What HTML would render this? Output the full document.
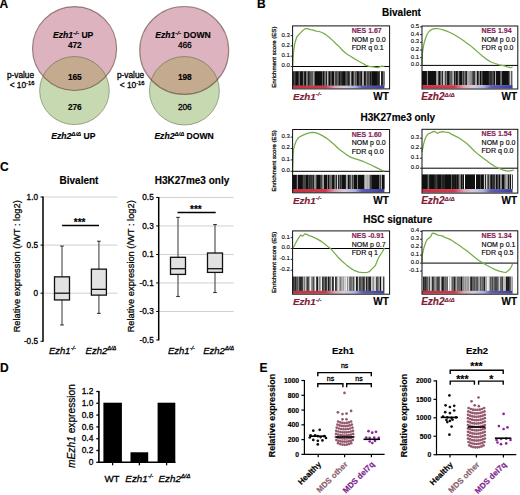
<!DOCTYPE html>
<html><head><meta charset="utf-8"><style>
html,body{margin:0;padding:0;background:#fff;overflow:hidden;width:520px;height:495px;}
svg{display:block;font-family:"Liberation Sans",sans-serif;}
</style></head><body>
<svg width="520" height="495" viewBox="0 0 520 495">
<rect width="520" height="495" fill="#fff"/>
<defs><clipPath id="cpv0"><ellipse cx="74.55" cy="48.5" rx="42.05" ry="41.95"/></clipPath></defs>
<ellipse cx="74.55" cy="48.5" rx="42.05" ry="41.95" fill="#DDB3BF"/>
<ellipse cx="74.45" cy="90.55" rx="34.85" ry="34.05" fill="#C6D9B1"/>
<ellipse cx="74.45" cy="90.55" rx="34.85" ry="34.05" fill="#C4AA8E" clip-path="url(#cpv0)"/>
<ellipse cx="74.45" cy="90.55" rx="34.85" ry="34.05" fill="none" stroke="rgba(60,80,40,0.45)" stroke-width="1"/>
<ellipse cx="74.55" cy="48.5" rx="42.05" ry="41.95" fill="none" stroke="rgba(80,50,40,0.55)" stroke-width="1.15"/>
<text x="53.10" y="37.60" font-size="8.6" font-weight="bold" font-style="italic" fill="#000" text-anchor="start" stroke="#000" stroke-width="0.15" >Ezh1</text>
<text x="73.17" y="34.80" font-size="6.191999999999999" font-weight="bold" font-style="italic" fill="#000" text-anchor="start" stroke="#000" stroke-width="0.15" >-/-</text>
<text x="81.41" y="37.60" font-size="8.6" font-weight="bold" font-style="normal" fill="#000" text-anchor="start" stroke="#000" stroke-width="0.15" >UP</text>
<text x="74.80" y="47.90" font-size="8.3" font-weight="bold" font-style="normal" fill="#000" text-anchor="middle" stroke="#000" stroke-width="0.15" >472</text>
<text x="74.80" y="79.80" font-size="8.3" font-weight="bold" font-style="normal" fill="#000" text-anchor="middle" stroke="#000" stroke-width="0.15" >165</text>
<text x="74.80" y="109.50" font-size="8.3" font-weight="bold" font-style="normal" fill="#000" text-anchor="middle" stroke="#000" stroke-width="0.15" >276</text>
<text x="51.30" y="138.70" font-size="8.6" font-weight="bold" font-style="italic" fill="#000" text-anchor="start" stroke="#000" stroke-width="0.15" >Ezh2</text>
<text x="71.37" y="135.90" font-size="6.02" font-weight="bold" font-style="italic" fill="#000" text-anchor="start" stroke="#000" stroke-width="0.15" >Δ/Δ</text>
<text x="83.52" y="138.70" font-size="8.6" font-weight="bold" font-style="normal" fill="#000" text-anchor="start" stroke="#000" stroke-width="0.15" >UP</text>
<defs><clipPath id="cpv1"><ellipse cx="184.2" cy="50.45" rx="44.5" ry="43.95"/></clipPath></defs>
<ellipse cx="184.2" cy="50.45" rx="44.5" ry="43.95" fill="#DDB3BF"/>
<ellipse cx="184.4" cy="90.75" rx="35.0" ry="34.25" fill="#C6D9B1"/>
<ellipse cx="184.4" cy="90.75" rx="35.0" ry="34.25" fill="#C4AA8E" clip-path="url(#cpv1)"/>
<ellipse cx="184.4" cy="90.75" rx="35.0" ry="34.25" fill="none" stroke="rgba(60,80,40,0.45)" stroke-width="1"/>
<ellipse cx="184.2" cy="50.45" rx="44.5" ry="43.95" fill="none" stroke="rgba(80,50,40,0.55)" stroke-width="1.15"/>
<text x="155.20" y="37.60" font-size="8.6" font-weight="bold" font-style="italic" fill="#000" text-anchor="start" stroke="#000" stroke-width="0.15" >Ezh1</text>
<text x="175.27" y="34.80" font-size="6.191999999999999" font-weight="bold" font-style="italic" fill="#000" text-anchor="start" stroke="#000" stroke-width="0.15" >-/-</text>
<text x="183.51" y="37.60" font-size="8.6" font-weight="bold" font-style="normal" fill="#000" text-anchor="start" stroke="#000" stroke-width="0.15" >DOWN</text>
<text x="184.80" y="47.90" font-size="8.3" font-weight="normal" font-style="normal" fill="#000" text-anchor="middle" stroke="#000" stroke-width="0.3" >466</text>
<text x="184.80" y="79.80" font-size="8.3" font-weight="bold" font-style="normal" fill="#000" text-anchor="middle" stroke="#000" stroke-width="0.15" >198</text>
<text x="184.80" y="109.50" font-size="8.3" font-weight="normal" font-style="normal" fill="#000" text-anchor="middle" stroke="#000" stroke-width="0.3" >206</text>
<text x="154.40" y="138.70" font-size="8.6" font-weight="bold" font-style="italic" fill="#000" text-anchor="start" stroke="#000" stroke-width="0.15" >Ezh2</text>
<text x="174.47" y="135.90" font-size="6.02" font-weight="bold" font-style="italic" fill="#000" text-anchor="start" stroke="#000" stroke-width="0.15" >Δ/Δ</text>
<text x="186.62" y="138.70" font-size="8.6" font-weight="bold" font-style="normal" fill="#000" text-anchor="start" stroke="#000" stroke-width="0.15" >DOWN</text>
<text x="20.50" y="78.40" font-size="8.3" font-weight="normal" font-style="normal" fill="#000" text-anchor="middle" stroke="#000" stroke-width="0.3" >p-value</text>
<text x="9.71" y="88.10" font-size="8.3" font-weight="normal" font-style="normal" fill="#000" text-anchor="start" stroke="#000" stroke-width="0.3" >&lt; 10</text>
<text x="26.09" y="84.90" font-size="5.8100000000000005" font-weight="normal" font-style="normal" fill="#000" text-anchor="start" stroke="#000" stroke-width="0.3" >-16</text>
<text x="130.60" y="78.40" font-size="8.3" font-weight="normal" font-style="normal" fill="#000" text-anchor="middle" stroke="#000" stroke-width="0.3" >p-value</text>
<text x="119.81" y="88.10" font-size="8.3" font-weight="normal" font-style="normal" fill="#000" text-anchor="start" stroke="#000" stroke-width="0.3" >&lt; 10</text>
<text x="136.19" y="84.90" font-size="5.8100000000000005" font-weight="normal" font-style="normal" fill="#000" text-anchor="start" stroke="#000" stroke-width="0.3" >-16</text>
<text x="-0.50" y="8.40" font-size="12" font-weight="bold" font-style="normal" fill="#000" text-anchor="start" stroke="#000" stroke-width="0.15" >A</text>
<text x="257.10" y="8.40" font-size="12" font-weight="bold" font-style="normal" fill="#000" text-anchor="start" stroke="#000" stroke-width="0.15" >B</text>
<text x="401.50" y="16.00" font-size="10" font-weight="bold" font-style="normal" fill="#000" text-anchor="middle" stroke="#000" stroke-width="0.15" >Bivalent</text>
<text x="397.80" y="120.80" font-size="10" font-weight="bold" font-style="normal" fill="#000" text-anchor="middle" stroke="#000" stroke-width="0.15" >H3K27me3 only</text>
<text x="397.80" y="222.50" font-size="10" font-weight="bold" font-style="normal" fill="#000" text-anchor="middle" stroke="#000" stroke-width="0.15" >HSC signature</text>
<line x1="290.6" y1="66.50" x2="292.6" y2="66.50" stroke="#000" stroke-width="0.8"/>
<text x="289.80" y="67.40" font-size="6.0" font-weight="normal" font-style="normal" fill="#000" text-anchor="end" stroke="#000" stroke-width="0.1" >0.0</text>
<line x1="290.6" y1="56.20" x2="292.6" y2="56.20" stroke="#000" stroke-width="0.8"/>
<text x="289.80" y="57.10" font-size="6.0" font-weight="normal" font-style="normal" fill="#000" text-anchor="end" stroke="#000" stroke-width="0.1" >0.1</text>
<line x1="290.6" y1="45.90" x2="292.6" y2="45.90" stroke="#000" stroke-width="0.8"/>
<text x="289.80" y="46.80" font-size="6.0" font-weight="normal" font-style="normal" fill="#000" text-anchor="end" stroke="#000" stroke-width="0.1" >0.2</text>
<line x1="290.6" y1="35.60" x2="292.6" y2="35.60" stroke="#000" stroke-width="0.8"/>
<text x="289.80" y="36.50" font-size="6.0" font-weight="normal" font-style="normal" fill="#000" text-anchor="end" stroke="#000" stroke-width="0.1" >0.3</text>
<rect x="292.6" y="71.4" width="91.80" height="14.30" fill="#141414"/>
<rect x="292.60" y="71.4" width="0.60" height="14.30" fill="#111"/>
<rect x="293.20" y="71.4" width="0.50" height="14.30" fill="#111"/>
<rect x="293.70" y="71.4" width="1.00" height="14.30" fill="#666"/>
<rect x="294.70" y="71.4" width="1.00" height="14.30" fill="#444"/>
<rect x="295.70" y="71.4" width="1.00" height="14.30" fill="#111"/>
<rect x="296.70" y="71.4" width="1.00" height="14.30" fill="#111"/>
<rect x="297.70" y="71.4" width="0.50" height="14.30" fill="#111"/>
<rect x="298.20" y="71.4" width="0.80" height="14.30" fill="#444"/>
<rect x="299.00" y="71.4" width="1.20" height="14.30" fill="#666"/>
<rect x="300.20" y="71.4" width="0.50" height="14.30" fill="#111"/>
<rect x="300.70" y="71.4" width="1.20" height="14.30" fill="#111"/>
<rect x="301.90" y="71.4" width="1.00" height="14.30" fill="#111"/>
<rect x="302.90" y="71.4" width="1.00" height="14.30" fill="#888"/>
<rect x="303.90" y="71.4" width="0.60" height="14.30" fill="#666"/>
<rect x="304.50" y="71.4" width="1.20" height="14.30" fill="#111"/>
<rect x="305.70" y="71.4" width="0.60" height="14.30" fill="#111"/>
<rect x="306.30" y="71.4" width="1.00" height="14.30" fill="#aaa"/>
<rect x="307.30" y="71.4" width="1.00" height="14.30" fill="#888"/>
<rect x="308.30" y="71.4" width="0.50" height="14.30" fill="#111"/>
<rect x="308.80" y="71.4" width="0.80" height="14.30" fill="#111"/>
<rect x="309.60" y="71.4" width="0.80" height="14.30" fill="#888"/>
<rect x="310.40" y="71.4" width="1.20" height="14.30" fill="#666"/>
<rect x="311.60" y="71.4" width="1.20" height="14.30" fill="#888"/>
<rect x="312.80" y="71.4" width="0.60" height="14.30" fill="#111"/>
<rect x="313.40" y="71.4" width="1.20" height="14.30" fill="#fff"/>
<rect x="314.60" y="71.4" width="1.20" height="14.30" fill="#111"/>
<rect x="315.80" y="71.4" width="0.50" height="14.30" fill="#111"/>
<rect x="316.30" y="71.4" width="1.00" height="14.30" fill="#111"/>
<rect x="317.30" y="71.4" width="0.60" height="14.30" fill="#111"/>
<rect x="317.90" y="71.4" width="0.80" height="14.30" fill="#111"/>
<rect x="318.70" y="71.4" width="1.20" height="14.30" fill="#111"/>
<rect x="319.90" y="71.4" width="0.60" height="14.30" fill="#111"/>
<rect x="320.50" y="71.4" width="1.00" height="14.30" fill="#111"/>
<rect x="321.50" y="71.4" width="0.50" height="14.30" fill="#111"/>
<rect x="322.00" y="71.4" width="0.80" height="14.30" fill="#888"/>
<rect x="322.80" y="71.4" width="1.20" height="14.30" fill="#111"/>
<rect x="324.00" y="71.4" width="0.60" height="14.30" fill="#111"/>
<rect x="324.60" y="71.4" width="0.60" height="14.30" fill="#ccc"/>
<rect x="325.20" y="71.4" width="1.20" height="14.30" fill="#888"/>
<rect x="326.40" y="71.4" width="0.60" height="14.30" fill="#111"/>
<rect x="327.00" y="71.4" width="0.80" height="14.30" fill="#eee"/>
<rect x="327.80" y="71.4" width="1.00" height="14.30" fill="#888"/>
<rect x="328.80" y="71.4" width="1.20" height="14.30" fill="#111"/>
<rect x="330.00" y="71.4" width="0.50" height="14.30" fill="#111"/>
<rect x="330.50" y="71.4" width="1.20" height="14.30" fill="#888"/>
<rect x="331.70" y="71.4" width="1.20" height="14.30" fill="#111"/>
<rect x="332.90" y="71.4" width="0.50" height="14.30" fill="#111"/>
<rect x="333.40" y="71.4" width="0.80" height="14.30" fill="#111"/>
<rect x="334.20" y="71.4" width="0.60" height="14.30" fill="#fff"/>
<rect x="334.80" y="71.4" width="1.00" height="14.30" fill="#666"/>
<rect x="335.80" y="71.4" width="0.80" height="14.30" fill="#111"/>
<rect x="336.60" y="71.4" width="1.20" height="14.30" fill="#888"/>
<rect x="337.80" y="71.4" width="0.80" height="14.30" fill="#444"/>
<rect x="338.60" y="71.4" width="0.60" height="14.30" fill="#888"/>
<rect x="339.20" y="71.4" width="1.20" height="14.30" fill="#111"/>
<rect x="340.40" y="71.4" width="0.50" height="14.30" fill="#666"/>
<rect x="340.90" y="71.4" width="0.50" height="14.30" fill="#888"/>
<rect x="341.40" y="71.4" width="0.50" height="14.30" fill="#111"/>
<rect x="341.90" y="71.4" width="0.50" height="14.30" fill="#666"/>
<rect x="342.40" y="71.4" width="0.60" height="14.30" fill="#111"/>
<rect x="343.00" y="71.4" width="1.20" height="14.30" fill="#111"/>
<rect x="344.20" y="71.4" width="0.80" height="14.30" fill="#111"/>
<rect x="345.00" y="71.4" width="0.60" height="14.30" fill="#111"/>
<rect x="345.60" y="71.4" width="0.60" height="14.30" fill="#888"/>
<rect x="346.20" y="71.4" width="0.80" height="14.30" fill="#666"/>
<rect x="347.00" y="71.4" width="1.00" height="14.30" fill="#444"/>
<rect x="348.00" y="71.4" width="0.80" height="14.30" fill="#111"/>
<rect x="348.80" y="71.4" width="1.00" height="14.30" fill="#666"/>
<rect x="349.80" y="71.4" width="0.50" height="14.30" fill="#111"/>
<rect x="350.30" y="71.4" width="1.20" height="14.30" fill="#fff"/>
<rect x="351.50" y="71.4" width="0.50" height="14.30" fill="#111"/>
<rect x="352.00" y="71.4" width="1.00" height="14.30" fill="#111"/>
<rect x="353.00" y="71.4" width="0.60" height="14.30" fill="#111"/>
<rect x="353.60" y="71.4" width="1.20" height="14.30" fill="#888"/>
<rect x="354.80" y="71.4" width="0.60" height="14.30" fill="#fff"/>
<rect x="355.40" y="71.4" width="0.60" height="14.30" fill="#444"/>
<rect x="356.00" y="71.4" width="1.00" height="14.30" fill="#666"/>
<rect x="357.00" y="71.4" width="1.00" height="14.30" fill="#111"/>
<rect x="358.00" y="71.4" width="0.80" height="14.30" fill="#111"/>
<rect x="358.80" y="71.4" width="0.60" height="14.30" fill="#666"/>
<rect x="359.40" y="71.4" width="0.50" height="14.30" fill="#666"/>
<rect x="359.90" y="71.4" width="0.80" height="14.30" fill="#666"/>
<rect x="360.70" y="71.4" width="1.20" height="14.30" fill="#111"/>
<rect x="361.90" y="71.4" width="0.50" height="14.30" fill="#444"/>
<rect x="362.40" y="71.4" width="1.20" height="14.30" fill="#fff"/>
<rect x="363.60" y="71.4" width="0.60" height="14.30" fill="#aaa"/>
<rect x="364.20" y="71.4" width="1.00" height="14.30" fill="#111"/>
<rect x="365.20" y="71.4" width="0.50" height="14.30" fill="#111"/>
<rect x="365.70" y="71.4" width="1.00" height="14.30" fill="#666"/>
<rect x="366.70" y="71.4" width="0.50" height="14.30" fill="#fff"/>
<rect x="367.20" y="71.4" width="0.80" height="14.30" fill="#444"/>
<rect x="368.00" y="71.4" width="0.80" height="14.30" fill="#666"/>
<rect x="368.80" y="71.4" width="0.80" height="14.30" fill="#111"/>
<rect x="369.60" y="71.4" width="0.60" height="14.30" fill="#ccc"/>
<rect x="370.20" y="71.4" width="0.80" height="14.30" fill="#111"/>
<rect x="371.00" y="71.4" width="0.80" height="14.30" fill="#666"/>
<rect x="371.80" y="71.4" width="1.20" height="14.30" fill="#111"/>
<rect x="373.00" y="71.4" width="1.20" height="14.30" fill="#111"/>
<rect x="374.20" y="71.4" width="1.20" height="14.30" fill="#111"/>
<rect x="375.40" y="71.4" width="0.50" height="14.30" fill="#111"/>
<rect x="375.90" y="71.4" width="0.60" height="14.30" fill="#111"/>
<rect x="376.50" y="71.4" width="1.20" height="14.30" fill="#111"/>
<rect x="377.70" y="71.4" width="0.80" height="14.30" fill="#666"/>
<rect x="378.50" y="71.4" width="0.80" height="14.30" fill="#111"/>
<rect x="379.30" y="71.4" width="0.50" height="14.30" fill="#111"/>
<rect x="379.80" y="71.4" width="1.20" height="14.30" fill="#fff"/>
<rect x="381.00" y="71.4" width="0.60" height="14.30" fill="#444"/>
<rect x="381.60" y="71.4" width="0.80" height="14.30" fill="#111"/>
<rect x="382.40" y="71.4" width="0.50" height="14.30" fill="#111"/>
<rect x="382.90" y="71.4" width="0.60" height="14.30" fill="#eee"/>
<rect x="383.50" y="71.4" width="0.50" height="14.30" fill="#666"/>
<rect x="384.00" y="71.4" width="0.40" height="14.30" fill="#444"/>
<defs><linearGradient id="g1" x1="0" x2="1"><stop offset="0" stop-color="#c92f3f"/><stop offset="0.36" stop-color="#d03a4c"/><stop offset="0.46" stop-color="#dca0b4"/><stop offset="0.56" stop-color="#d8cce2"/><stop offset="0.68" stop-color="#aeb0dc"/><stop offset="0.76" stop-color="#5c5eb6"/><stop offset="1" stop-color="#3c3e9e"/></linearGradient></defs>
<rect x="292.6" y="85.7" width="91.80" height="2.70" fill="url(#g1)"/>
<line x1="292.6" y1="66.5" x2="389.6" y2="66.5" stroke="#000" stroke-width="1"/>
<polyline points="292.60,66.50 293.40,53.00 294.80,43.30 296.80,37.00 299.70,33.60 302.60,30.70 305.50,28.60 307.40,28.60 310.30,29.60 313.30,30.20 316.20,31.20 319.10,31.50 322.00,32.50 324.90,34.10 328.80,37.00 332.60,40.40 336.50,44.30 338.00,45.40 342.20,50.00 346.30,53.70 350.50,56.30 354.60,58.90 358.80,61.30 362.90,63.50 366.00,65.40 369.20,66.40 373.30,66.90 377.50,67.70 381.60,66.10 384.40,66.40" fill="none" stroke="#76ad48" stroke-width="1.25" stroke-linejoin="round"/>
<rect x="292.6" y="25.9" width="97.00" height="63.00" fill="none" stroke="#111" stroke-width="1"/>
<text x="351.80" y="32.90" font-size="7" font-weight="bold" font-style="normal" fill="#861c58" text-anchor="start" stroke="#861c58" stroke-width="0.15" >NES 1.67</text>
<text x="351.80" y="41.60" font-size="7" font-weight="normal" font-style="normal" fill="#000" text-anchor="start" stroke="#000" stroke-width="0.15" >NOM p 0.0</text>
<text x="351.80" y="50.00" font-size="7" font-weight="normal" font-style="normal" fill="#000" text-anchor="start" stroke="#000" stroke-width="0.15" >FDR q 0.1</text>
<text x="292.90" y="99.80" font-size="9.8" font-weight="bold" font-style="italic" fill="#7E2035" text-anchor="start" stroke="#7E2035" stroke-width="0.15" >Ezh1</text>
<text x="315.77" y="96.40" font-size="6.0760000000000005" font-weight="bold" font-style="italic" fill="#7E2035" text-anchor="start" stroke="#7E2035" stroke-width="0.15" >-/-</text>
<text x="388.80" y="99.80" font-size="10" font-weight="bold" font-style="normal" fill="#000" text-anchor="end" stroke="#000" stroke-width="0.15" >WT</text>
<text transform="translate(276.0,57.2) rotate(-90)" font-size="6.1" text-anchor="middle" fill="#000" stroke="#000" stroke-width="0.25">Enrichment score (ES)</text>
<line x1="420.0" y1="65.40" x2="422.0" y2="65.40" stroke="#000" stroke-width="0.8"/>
<text x="419.20" y="66.30" font-size="6.0" font-weight="normal" font-style="normal" fill="#000" text-anchor="end" stroke="#000" stroke-width="0.1" >0.0</text>
<line x1="420.0" y1="57.70" x2="422.0" y2="57.70" stroke="#000" stroke-width="0.8"/>
<text x="419.20" y="58.60" font-size="6.0" font-weight="normal" font-style="normal" fill="#000" text-anchor="end" stroke="#000" stroke-width="0.1" >0.1</text>
<line x1="420.0" y1="50.00" x2="422.0" y2="50.00" stroke="#000" stroke-width="0.8"/>
<text x="419.20" y="50.90" font-size="6.0" font-weight="normal" font-style="normal" fill="#000" text-anchor="end" stroke="#000" stroke-width="0.1" >0.2</text>
<line x1="420.0" y1="42.30" x2="422.0" y2="42.30" stroke="#000" stroke-width="0.8"/>
<text x="419.20" y="43.20" font-size="6.0" font-weight="normal" font-style="normal" fill="#000" text-anchor="end" stroke="#000" stroke-width="0.1" >0.3</text>
<line x1="420.0" y1="34.60" x2="422.0" y2="34.60" stroke="#000" stroke-width="0.8"/>
<text x="419.20" y="35.50" font-size="6.0" font-weight="normal" font-style="normal" fill="#000" text-anchor="end" stroke="#000" stroke-width="0.1" >0.4</text>
<line x1="420.0" y1="26.90" x2="422.0" y2="26.90" stroke="#000" stroke-width="0.8"/>
<text x="419.20" y="27.80" font-size="6.0" font-weight="normal" font-style="normal" fill="#000" text-anchor="end" stroke="#000" stroke-width="0.1" >0.5</text>
<rect x="422.0" y="71.0" width="90.60" height="14.10" fill="#141414"/>
<rect x="422.00" y="71.0" width="0.50" height="14.10" fill="#111"/>
<rect x="422.50" y="71.0" width="0.80" height="14.10" fill="#111"/>
<rect x="423.30" y="71.0" width="0.80" height="14.10" fill="#111"/>
<rect x="424.10" y="71.0" width="0.60" height="14.10" fill="#111"/>
<rect x="424.70" y="71.0" width="1.20" height="14.10" fill="#111"/>
<rect x="425.90" y="71.0" width="1.00" height="14.10" fill="#111"/>
<rect x="426.90" y="71.0" width="1.20" height="14.10" fill="#888"/>
<rect x="428.10" y="71.0" width="1.00" height="14.10" fill="#111"/>
<rect x="429.10" y="71.0" width="0.50" height="14.10" fill="#111"/>
<rect x="429.60" y="71.0" width="0.80" height="14.10" fill="#111"/>
<rect x="430.40" y="71.0" width="0.80" height="14.10" fill="#111"/>
<rect x="431.20" y="71.0" width="1.00" height="14.10" fill="#111"/>
<rect x="432.20" y="71.0" width="1.20" height="14.10" fill="#111"/>
<rect x="433.40" y="71.0" width="0.60" height="14.10" fill="#111"/>
<rect x="434.00" y="71.0" width="0.50" height="14.10" fill="#111"/>
<rect x="434.50" y="71.0" width="0.60" height="14.10" fill="#111"/>
<rect x="435.10" y="71.0" width="1.20" height="14.10" fill="#111"/>
<rect x="436.30" y="71.0" width="1.20" height="14.10" fill="#ccc"/>
<rect x="437.50" y="71.0" width="1.00" height="14.10" fill="#eee"/>
<rect x="438.50" y="71.0" width="1.20" height="14.10" fill="#111"/>
<rect x="439.70" y="71.0" width="1.00" height="14.10" fill="#111"/>
<rect x="440.70" y="71.0" width="1.00" height="14.10" fill="#fff"/>
<rect x="441.70" y="71.0" width="1.20" height="14.10" fill="#111"/>
<rect x="442.90" y="71.0" width="0.80" height="14.10" fill="#eee"/>
<rect x="443.70" y="71.0" width="1.00" height="14.10" fill="#fff"/>
<rect x="444.70" y="71.0" width="0.80" height="14.10" fill="#888"/>
<rect x="445.50" y="71.0" width="1.00" height="14.10" fill="#444"/>
<rect x="446.50" y="71.0" width="0.80" height="14.10" fill="#ccc"/>
<rect x="447.30" y="71.0" width="1.20" height="14.10" fill="#111"/>
<rect x="448.50" y="71.0" width="1.00" height="14.10" fill="#111"/>
<rect x="449.50" y="71.0" width="1.20" height="14.10" fill="#888"/>
<rect x="450.70" y="71.0" width="1.20" height="14.10" fill="#666"/>
<rect x="451.90" y="71.0" width="0.60" height="14.10" fill="#666"/>
<rect x="452.50" y="71.0" width="1.20" height="14.10" fill="#eee"/>
<rect x="453.70" y="71.0" width="0.50" height="14.10" fill="#ccc"/>
<rect x="454.20" y="71.0" width="0.50" height="14.10" fill="#111"/>
<rect x="454.70" y="71.0" width="0.50" height="14.10" fill="#111"/>
<rect x="455.20" y="71.0" width="0.60" height="14.10" fill="#aaa"/>
<rect x="455.80" y="71.0" width="1.20" height="14.10" fill="#111"/>
<rect x="457.00" y="71.0" width="0.80" height="14.10" fill="#111"/>
<rect x="457.80" y="71.0" width="0.60" height="14.10" fill="#aaa"/>
<rect x="458.40" y="71.0" width="1.00" height="14.10" fill="#aaa"/>
<rect x="459.40" y="71.0" width="0.50" height="14.10" fill="#111"/>
<rect x="459.90" y="71.0" width="0.60" height="14.10" fill="#111"/>
<rect x="460.50" y="71.0" width="0.50" height="14.10" fill="#111"/>
<rect x="461.00" y="71.0" width="0.50" height="14.10" fill="#111"/>
<rect x="461.50" y="71.0" width="0.50" height="14.10" fill="#111"/>
<rect x="462.00" y="71.0" width="0.60" height="14.10" fill="#ccc"/>
<rect x="462.60" y="71.0" width="0.60" height="14.10" fill="#444"/>
<rect x="463.20" y="71.0" width="1.00" height="14.10" fill="#444"/>
<rect x="464.20" y="71.0" width="0.60" height="14.10" fill="#aaa"/>
<rect x="464.80" y="71.0" width="0.80" height="14.10" fill="#aaa"/>
<rect x="465.60" y="71.0" width="0.80" height="14.10" fill="#111"/>
<rect x="466.40" y="71.0" width="0.50" height="14.10" fill="#111"/>
<rect x="466.90" y="71.0" width="1.20" height="14.10" fill="#aaa"/>
<rect x="468.10" y="71.0" width="0.80" height="14.10" fill="#ccc"/>
<rect x="468.90" y="71.0" width="1.00" height="14.10" fill="#aaa"/>
<rect x="469.90" y="71.0" width="0.80" height="14.10" fill="#aaa"/>
<rect x="470.70" y="71.0" width="1.00" height="14.10" fill="#ccc"/>
<rect x="471.70" y="71.0" width="1.20" height="14.10" fill="#666"/>
<rect x="472.90" y="71.0" width="1.00" height="14.10" fill="#444"/>
<rect x="473.90" y="71.0" width="0.80" height="14.10" fill="#111"/>
<rect x="474.70" y="71.0" width="1.20" height="14.10" fill="#aaa"/>
<rect x="475.90" y="71.0" width="1.20" height="14.10" fill="#aaa"/>
<rect x="477.10" y="71.0" width="0.80" height="14.10" fill="#111"/>
<rect x="477.90" y="71.0" width="0.60" height="14.10" fill="#111"/>
<rect x="478.50" y="71.0" width="1.00" height="14.10" fill="#888"/>
<rect x="479.50" y="71.0" width="0.50" height="14.10" fill="#ccc"/>
<rect x="480.00" y="71.0" width="1.00" height="14.10" fill="#111"/>
<rect x="481.00" y="71.0" width="0.50" height="14.10" fill="#888"/>
<rect x="481.50" y="71.0" width="1.20" height="14.10" fill="#666"/>
<rect x="482.70" y="71.0" width="1.00" height="14.10" fill="#111"/>
<rect x="483.70" y="71.0" width="0.50" height="14.10" fill="#111"/>
<rect x="484.20" y="71.0" width="1.00" height="14.10" fill="#111"/>
<rect x="485.20" y="71.0" width="0.50" height="14.10" fill="#111"/>
<rect x="485.70" y="71.0" width="0.50" height="14.10" fill="#111"/>
<rect x="486.20" y="71.0" width="0.50" height="14.10" fill="#111"/>
<rect x="486.70" y="71.0" width="0.60" height="14.10" fill="#111"/>
<rect x="487.30" y="71.0" width="0.50" height="14.10" fill="#111"/>
<rect x="487.80" y="71.0" width="1.00" height="14.10" fill="#111"/>
<rect x="488.80" y="71.0" width="1.20" height="14.10" fill="#444"/>
<rect x="490.00" y="71.0" width="0.60" height="14.10" fill="#666"/>
<rect x="490.60" y="71.0" width="1.00" height="14.10" fill="#111"/>
<rect x="491.60" y="71.0" width="1.20" height="14.10" fill="#666"/>
<rect x="492.80" y="71.0" width="1.20" height="14.10" fill="#444"/>
<rect x="494.00" y="71.0" width="1.00" height="14.10" fill="#111"/>
<rect x="495.00" y="71.0" width="1.20" height="14.10" fill="#aaa"/>
<rect x="496.20" y="71.0" width="1.20" height="14.10" fill="#111"/>
<rect x="497.40" y="71.0" width="0.80" height="14.10" fill="#111"/>
<rect x="498.20" y="71.0" width="1.00" height="14.10" fill="#111"/>
<rect x="499.20" y="71.0" width="0.80" height="14.10" fill="#111"/>
<rect x="500.00" y="71.0" width="0.50" height="14.10" fill="#aaa"/>
<rect x="500.50" y="71.0" width="1.00" height="14.10" fill="#666"/>
<rect x="501.50" y="71.0" width="0.60" height="14.10" fill="#aaa"/>
<rect x="502.10" y="71.0" width="0.50" height="14.10" fill="#111"/>
<rect x="502.60" y="71.0" width="0.80" height="14.10" fill="#111"/>
<rect x="503.40" y="71.0" width="0.50" height="14.10" fill="#111"/>
<rect x="503.90" y="71.0" width="1.00" height="14.10" fill="#111"/>
<rect x="504.90" y="71.0" width="1.20" height="14.10" fill="#111"/>
<rect x="506.10" y="71.0" width="1.00" height="14.10" fill="#111"/>
<rect x="507.10" y="71.0" width="0.80" height="14.10" fill="#111"/>
<rect x="507.90" y="71.0" width="0.50" height="14.10" fill="#111"/>
<rect x="508.40" y="71.0" width="0.50" height="14.10" fill="#111"/>
<rect x="508.90" y="71.0" width="0.80" height="14.10" fill="#ccc"/>
<rect x="509.70" y="71.0" width="0.50" height="14.10" fill="#111"/>
<rect x="510.20" y="71.0" width="1.00" height="14.10" fill="#fff"/>
<rect x="511.20" y="71.0" width="0.80" height="14.10" fill="#666"/>
<rect x="512.00" y="71.0" width="0.60" height="14.10" fill="#eee"/>
<defs><linearGradient id="g2" x1="0" x2="1"><stop offset="0" stop-color="#c92f3f"/><stop offset="0.36" stop-color="#d03a4c"/><stop offset="0.46" stop-color="#dca0b4"/><stop offset="0.56" stop-color="#d8cce2"/><stop offset="0.68" stop-color="#aeb0dc"/><stop offset="0.76" stop-color="#5c5eb6"/><stop offset="1" stop-color="#3c3e9e"/></linearGradient></defs>
<rect x="422.0" y="85.1" width="90.60" height="3.40" fill="url(#g2)"/>
<line x1="422.0" y1="65.4" x2="517.8" y2="65.4" stroke="#000" stroke-width="1"/>
<polyline points="422.00,65.40 422.20,55.00 423.00,49.00 424.00,43.50 425.50,38.50 427.00,34.50 429.00,31.50 431.00,29.80 434.00,28.60 437.00,28.50 440.00,29.00 443.00,29.80 446.00,30.80 450.00,32.50 454.00,34.50 458.00,37.00 462.00,39.50 466.00,42.50 470.20,45.40 474.30,49.00 478.50,52.60 482.60,56.30 486.80,59.40 490.90,62.00 495.10,63.50 499.20,64.80 503.40,65.60 507.50,66.90 510.70,67.70 512.60,66.70" fill="none" stroke="#76ad48" stroke-width="1.25" stroke-linejoin="round"/>
<rect x="422.0" y="26.0" width="95.80" height="63.00" fill="none" stroke="#111" stroke-width="1"/>
<text x="481.60" y="33.00" font-size="7" font-weight="bold" font-style="normal" fill="#861c58" text-anchor="start" stroke="#861c58" stroke-width="0.15" >NES 1.94</text>
<text x="481.60" y="41.70" font-size="7" font-weight="normal" font-style="normal" fill="#000" text-anchor="start" stroke="#000" stroke-width="0.15" >NOM p 0.0</text>
<text x="481.60" y="50.10" font-size="7" font-weight="normal" font-style="normal" fill="#000" text-anchor="start" stroke="#000" stroke-width="0.15" >FDR q 0.0</text>
<text x="421.20" y="99.90" font-size="10" font-weight="bold" font-style="italic" fill="#7E2035" text-anchor="start" stroke="#7E2035" stroke-width="0.15" >Ezh2</text>
<text x="444.54" y="96.80" font-size="6.2" font-weight="bold" font-style="italic" fill="#7E2035" text-anchor="start" stroke="#7E2035" stroke-width="0.15" >Δ/Δ</text>
<text x="517.00" y="99.90" font-size="10" font-weight="bold" font-style="normal" fill="#000" text-anchor="end" stroke="#000" stroke-width="0.15" >WT</text>
<line x1="290.6" y1="171.30" x2="292.6" y2="171.30" stroke="#000" stroke-width="0.8"/>
<text x="289.80" y="172.20" font-size="6.0" font-weight="normal" font-style="normal" fill="#000" text-anchor="end" stroke="#000" stroke-width="0.1" >0.0</text>
<line x1="290.6" y1="159.90" x2="292.6" y2="159.90" stroke="#000" stroke-width="0.8"/>
<text x="289.80" y="160.80" font-size="6.0" font-weight="normal" font-style="normal" fill="#000" text-anchor="end" stroke="#000" stroke-width="0.1" >0.1</text>
<line x1="290.6" y1="148.50" x2="292.6" y2="148.50" stroke="#000" stroke-width="0.8"/>
<text x="289.80" y="149.40" font-size="6.0" font-weight="normal" font-style="normal" fill="#000" text-anchor="end" stroke="#000" stroke-width="0.1" >0.2</text>
<line x1="290.6" y1="137.10" x2="292.6" y2="137.10" stroke="#000" stroke-width="0.8"/>
<text x="289.80" y="138.00" font-size="6.0" font-weight="normal" font-style="normal" fill="#000" text-anchor="end" stroke="#000" stroke-width="0.1" >0.3</text>
<rect x="292.6" y="174.9" width="91.80" height="14.10" fill="#141414"/>
<rect x="292.60" y="174.9" width="0.60" height="14.10" fill="#111"/>
<rect x="293.20" y="174.9" width="0.60" height="14.10" fill="#111"/>
<rect x="293.80" y="174.9" width="1.20" height="14.10" fill="#111"/>
<rect x="295.00" y="174.9" width="1.20" height="14.10" fill="#111"/>
<rect x="296.20" y="174.9" width="0.50" height="14.10" fill="#666"/>
<rect x="296.70" y="174.9" width="0.80" height="14.10" fill="#111"/>
<rect x="297.50" y="174.9" width="0.60" height="14.10" fill="#fff"/>
<rect x="298.10" y="174.9" width="1.20" height="14.10" fill="#111"/>
<rect x="299.30" y="174.9" width="1.00" height="14.10" fill="#111"/>
<rect x="300.30" y="174.9" width="0.60" height="14.10" fill="#111"/>
<rect x="300.90" y="174.9" width="0.60" height="14.10" fill="#111"/>
<rect x="301.50" y="174.9" width="1.20" height="14.10" fill="#111"/>
<rect x="302.70" y="174.9" width="0.50" height="14.10" fill="#444"/>
<rect x="303.20" y="174.9" width="0.60" height="14.10" fill="#888"/>
<rect x="303.80" y="174.9" width="0.50" height="14.10" fill="#111"/>
<rect x="304.30" y="174.9" width="0.50" height="14.10" fill="#666"/>
<rect x="304.80" y="174.9" width="1.00" height="14.10" fill="#666"/>
<rect x="305.80" y="174.9" width="1.00" height="14.10" fill="#111"/>
<rect x="306.80" y="174.9" width="1.20" height="14.10" fill="#111"/>
<rect x="308.00" y="174.9" width="0.60" height="14.10" fill="#aaa"/>
<rect x="308.60" y="174.9" width="0.50" height="14.10" fill="#111"/>
<rect x="309.10" y="174.9" width="0.60" height="14.10" fill="#111"/>
<rect x="309.70" y="174.9" width="1.00" height="14.10" fill="#666"/>
<rect x="310.70" y="174.9" width="1.00" height="14.10" fill="#111"/>
<rect x="311.70" y="174.9" width="1.00" height="14.10" fill="#888"/>
<rect x="312.70" y="174.9" width="1.20" height="14.10" fill="#111"/>
<rect x="313.90" y="174.9" width="0.60" height="14.10" fill="#aaa"/>
<rect x="314.50" y="174.9" width="0.80" height="14.10" fill="#ccc"/>
<rect x="315.30" y="174.9" width="0.80" height="14.10" fill="#aaa"/>
<rect x="316.10" y="174.9" width="0.60" height="14.10" fill="#888"/>
<rect x="316.70" y="174.9" width="0.80" height="14.10" fill="#111"/>
<rect x="317.50" y="174.9" width="0.50" height="14.10" fill="#111"/>
<rect x="318.00" y="174.9" width="1.00" height="14.10" fill="#111"/>
<rect x="319.00" y="174.9" width="0.50" height="14.10" fill="#111"/>
<rect x="319.50" y="174.9" width="0.60" height="14.10" fill="#111"/>
<rect x="320.10" y="174.9" width="1.00" height="14.10" fill="#444"/>
<rect x="321.10" y="174.9" width="0.50" height="14.10" fill="#444"/>
<rect x="321.60" y="174.9" width="1.00" height="14.10" fill="#666"/>
<rect x="322.60" y="174.9" width="1.20" height="14.10" fill="#eee"/>
<rect x="323.80" y="174.9" width="1.20" height="14.10" fill="#111"/>
<rect x="325.00" y="174.9" width="0.50" height="14.10" fill="#111"/>
<rect x="325.50" y="174.9" width="0.50" height="14.10" fill="#111"/>
<rect x="326.00" y="174.9" width="1.20" height="14.10" fill="#111"/>
<rect x="327.20" y="174.9" width="0.60" height="14.10" fill="#eee"/>
<rect x="327.80" y="174.9" width="1.20" height="14.10" fill="#111"/>
<rect x="329.00" y="174.9" width="0.50" height="14.10" fill="#eee"/>
<rect x="329.50" y="174.9" width="0.80" height="14.10" fill="#444"/>
<rect x="330.30" y="174.9" width="1.00" height="14.10" fill="#888"/>
<rect x="331.30" y="174.9" width="1.00" height="14.10" fill="#888"/>
<rect x="332.30" y="174.9" width="1.20" height="14.10" fill="#111"/>
<rect x="333.50" y="174.9" width="1.20" height="14.10" fill="#111"/>
<rect x="334.70" y="174.9" width="0.60" height="14.10" fill="#fff"/>
<rect x="335.30" y="174.9" width="0.80" height="14.10" fill="#888"/>
<rect x="336.10" y="174.9" width="0.80" height="14.10" fill="#111"/>
<rect x="336.90" y="174.9" width="1.00" height="14.10" fill="#eee"/>
<rect x="337.90" y="174.9" width="0.50" height="14.10" fill="#888"/>
<rect x="338.40" y="174.9" width="0.60" height="14.10" fill="#111"/>
<rect x="339.00" y="174.9" width="0.80" height="14.10" fill="#888"/>
<rect x="339.80" y="174.9" width="0.80" height="14.10" fill="#666"/>
<rect x="340.60" y="174.9" width="1.00" height="14.10" fill="#111"/>
<rect x="341.60" y="174.9" width="0.50" height="14.10" fill="#aaa"/>
<rect x="342.10" y="174.9" width="0.80" height="14.10" fill="#111"/>
<rect x="342.90" y="174.9" width="1.00" height="14.10" fill="#111"/>
<rect x="343.90" y="174.9" width="1.20" height="14.10" fill="#111"/>
<rect x="345.10" y="174.9" width="0.80" height="14.10" fill="#111"/>
<rect x="345.90" y="174.9" width="0.80" height="14.10" fill="#eee"/>
<rect x="346.70" y="174.9" width="0.80" height="14.10" fill="#aaa"/>
<rect x="347.50" y="174.9" width="0.50" height="14.10" fill="#ccc"/>
<rect x="348.00" y="174.9" width="0.80" height="14.10" fill="#111"/>
<rect x="348.80" y="174.9" width="0.80" height="14.10" fill="#111"/>
<rect x="349.60" y="174.9" width="0.60" height="14.10" fill="#888"/>
<rect x="350.20" y="174.9" width="0.50" height="14.10" fill="#111"/>
<rect x="350.70" y="174.9" width="0.80" height="14.10" fill="#ccc"/>
<rect x="351.50" y="174.9" width="1.00" height="14.10" fill="#ccc"/>
<rect x="352.50" y="174.9" width="0.50" height="14.10" fill="#111"/>
<rect x="353.00" y="174.9" width="0.60" height="14.10" fill="#fff"/>
<rect x="353.60" y="174.9" width="0.80" height="14.10" fill="#111"/>
<rect x="354.40" y="174.9" width="0.50" height="14.10" fill="#111"/>
<rect x="354.90" y="174.9" width="0.60" height="14.10" fill="#111"/>
<rect x="355.50" y="174.9" width="1.20" height="14.10" fill="#111"/>
<rect x="356.70" y="174.9" width="0.80" height="14.10" fill="#111"/>
<rect x="357.50" y="174.9" width="0.50" height="14.10" fill="#eee"/>
<rect x="358.00" y="174.9" width="1.20" height="14.10" fill="#111"/>
<rect x="359.20" y="174.9" width="0.80" height="14.10" fill="#111"/>
<rect x="360.00" y="174.9" width="0.80" height="14.10" fill="#111"/>
<rect x="360.80" y="174.9" width="1.00" height="14.10" fill="#111"/>
<rect x="361.80" y="174.9" width="1.20" height="14.10" fill="#111"/>
<rect x="363.00" y="174.9" width="1.00" height="14.10" fill="#111"/>
<rect x="364.00" y="174.9" width="0.50" height="14.10" fill="#111"/>
<rect x="364.50" y="174.9" width="1.20" height="14.10" fill="#fff"/>
<rect x="365.70" y="174.9" width="1.20" height="14.10" fill="#ccc"/>
<rect x="366.90" y="174.9" width="0.50" height="14.10" fill="#888"/>
<rect x="367.40" y="174.9" width="1.20" height="14.10" fill="#eee"/>
<rect x="368.60" y="174.9" width="0.60" height="14.10" fill="#eee"/>
<rect x="369.20" y="174.9" width="0.50" height="14.10" fill="#aaa"/>
<rect x="369.70" y="174.9" width="0.50" height="14.10" fill="#ccc"/>
<rect x="370.20" y="174.9" width="1.00" height="14.10" fill="#444"/>
<rect x="371.20" y="174.9" width="1.00" height="14.10" fill="#444"/>
<rect x="372.20" y="174.9" width="1.20" height="14.10" fill="#111"/>
<rect x="373.40" y="174.9" width="0.50" height="14.10" fill="#111"/>
<rect x="373.90" y="174.9" width="1.00" height="14.10" fill="#111"/>
<rect x="374.90" y="174.9" width="1.20" height="14.10" fill="#111"/>
<rect x="376.10" y="174.9" width="0.60" height="14.10" fill="#111"/>
<rect x="376.70" y="174.9" width="1.20" height="14.10" fill="#111"/>
<rect x="377.90" y="174.9" width="0.50" height="14.10" fill="#111"/>
<rect x="378.40" y="174.9" width="0.60" height="14.10" fill="#111"/>
<rect x="379.00" y="174.9" width="0.50" height="14.10" fill="#111"/>
<rect x="379.50" y="174.9" width="0.80" height="14.10" fill="#ccc"/>
<rect x="380.30" y="174.9" width="0.50" height="14.10" fill="#111"/>
<rect x="380.80" y="174.9" width="1.20" height="14.10" fill="#aaa"/>
<rect x="382.00" y="174.9" width="0.80" height="14.10" fill="#111"/>
<rect x="382.80" y="174.9" width="1.20" height="14.10" fill="#111"/>
<rect x="384.00" y="174.9" width="0.40" height="14.10" fill="#111"/>
<defs><linearGradient id="g3" x1="0" x2="1"><stop offset="0" stop-color="#c92f3f"/><stop offset="0.36" stop-color="#d03a4c"/><stop offset="0.46" stop-color="#dca0b4"/><stop offset="0.56" stop-color="#d8cce2"/><stop offset="0.68" stop-color="#aeb0dc"/><stop offset="0.76" stop-color="#5c5eb6"/><stop offset="1" stop-color="#3c3e9e"/></linearGradient></defs>
<rect x="292.6" y="189.0" width="91.80" height="3.30" fill="url(#g3)"/>
<line x1="292.6" y1="171.3" x2="389.6" y2="171.3" stroke="#000" stroke-width="1"/>
<polyline points="292.60,171.30 293.10,155.30 293.60,149.20 294.60,145.20 296.10,141.20 298.10,138.10 301.10,136.10 304.20,134.60 308.20,133.10 312.20,132.30 315.30,132.60 318.30,133.60 322.30,135.60 326.40,138.10 330.40,141.20 334.50,144.70 338.50,148.70 342.20,151.50 346.30,154.60 350.50,157.20 354.60,158.70 358.80,159.80 362.90,161.30 367.10,163.20 371.20,165.00 375.40,167.10 379.50,169.10 382.70,170.70 384.40,171.20" fill="none" stroke="#76ad48" stroke-width="1.25" stroke-linejoin="round"/>
<rect x="292.6" y="129.5" width="97.00" height="63.30" fill="none" stroke="#111" stroke-width="1"/>
<text x="351.80" y="136.50" font-size="7" font-weight="bold" font-style="normal" fill="#861c58" text-anchor="start" stroke="#861c58" stroke-width="0.15" >NES 1.60</text>
<text x="351.80" y="145.20" font-size="7" font-weight="normal" font-style="normal" fill="#000" text-anchor="start" stroke="#000" stroke-width="0.15" >NOM p 0.0</text>
<text x="351.80" y="153.60" font-size="7" font-weight="normal" font-style="normal" fill="#000" text-anchor="start" stroke="#000" stroke-width="0.15" >FDR q 0.0</text>
<text x="292.90" y="203.70" font-size="9.8" font-weight="bold" font-style="italic" fill="#7E2035" text-anchor="start" stroke="#7E2035" stroke-width="0.15" >Ezh1</text>
<text x="315.77" y="200.30" font-size="6.0760000000000005" font-weight="bold" font-style="italic" fill="#7E2035" text-anchor="start" stroke="#7E2035" stroke-width="0.15" >-/-</text>
<text x="388.80" y="203.70" font-size="10" font-weight="bold" font-style="normal" fill="#000" text-anchor="end" stroke="#000" stroke-width="0.15" >WT</text>
<text transform="translate(276.0,160.9) rotate(-90)" font-size="6.1" text-anchor="middle" fill="#000" stroke="#000" stroke-width="0.25">Enrichment score (ES)</text>
<line x1="420.0" y1="168.20" x2="422.0" y2="168.20" stroke="#000" stroke-width="0.8"/>
<text x="419.20" y="169.10" font-size="6.0" font-weight="normal" font-style="normal" fill="#000" text-anchor="end" stroke="#000" stroke-width="0.1" >0.0</text>
<line x1="420.0" y1="158.20" x2="422.0" y2="158.20" stroke="#000" stroke-width="0.8"/>
<text x="419.20" y="159.10" font-size="6.0" font-weight="normal" font-style="normal" fill="#000" text-anchor="end" stroke="#000" stroke-width="0.1" >0.1</text>
<line x1="420.0" y1="148.20" x2="422.0" y2="148.20" stroke="#000" stroke-width="0.8"/>
<text x="419.20" y="149.10" font-size="6.0" font-weight="normal" font-style="normal" fill="#000" text-anchor="end" stroke="#000" stroke-width="0.1" >0.2</text>
<line x1="420.0" y1="138.20" x2="422.0" y2="138.20" stroke="#000" stroke-width="0.8"/>
<text x="419.20" y="139.10" font-size="6.0" font-weight="normal" font-style="normal" fill="#000" text-anchor="end" stroke="#000" stroke-width="0.1" >0.3</text>
<rect x="422.0" y="174.6" width="90.60" height="14.50" fill="#141414"/>
<rect x="422.00" y="174.6" width="0.60" height="14.50" fill="#111"/>
<rect x="422.60" y="174.6" width="1.00" height="14.50" fill="#111"/>
<rect x="423.60" y="174.6" width="0.50" height="14.50" fill="#111"/>
<rect x="424.10" y="174.6" width="1.00" height="14.50" fill="#111"/>
<rect x="425.10" y="174.6" width="0.80" height="14.50" fill="#111"/>
<rect x="425.90" y="174.6" width="0.50" height="14.50" fill="#111"/>
<rect x="426.40" y="174.6" width="1.20" height="14.50" fill="#111"/>
<rect x="427.60" y="174.6" width="0.60" height="14.50" fill="#666"/>
<rect x="428.20" y="174.6" width="0.60" height="14.50" fill="#aaa"/>
<rect x="428.80" y="174.6" width="0.80" height="14.50" fill="#444"/>
<rect x="429.60" y="174.6" width="0.60" height="14.50" fill="#111"/>
<rect x="430.20" y="174.6" width="0.80" height="14.50" fill="#111"/>
<rect x="431.00" y="174.6" width="1.20" height="14.50" fill="#111"/>
<rect x="432.20" y="174.6" width="1.00" height="14.50" fill="#111"/>
<rect x="433.20" y="174.6" width="0.60" height="14.50" fill="#111"/>
<rect x="433.80" y="174.6" width="0.80" height="14.50" fill="#111"/>
<rect x="434.60" y="174.6" width="1.20" height="14.50" fill="#444"/>
<rect x="435.80" y="174.6" width="0.80" height="14.50" fill="#111"/>
<rect x="436.60" y="174.6" width="0.80" height="14.50" fill="#888"/>
<rect x="437.40" y="174.6" width="0.60" height="14.50" fill="#111"/>
<rect x="438.00" y="174.6" width="1.20" height="14.50" fill="#111"/>
<rect x="439.20" y="174.6" width="1.00" height="14.50" fill="#111"/>
<rect x="440.20" y="174.6" width="0.80" height="14.50" fill="#111"/>
<rect x="441.00" y="174.6" width="0.50" height="14.50" fill="#111"/>
<rect x="441.50" y="174.6" width="1.00" height="14.50" fill="#666"/>
<rect x="442.50" y="174.6" width="1.20" height="14.50" fill="#111"/>
<rect x="443.70" y="174.6" width="1.00" height="14.50" fill="#444"/>
<rect x="444.70" y="174.6" width="0.60" height="14.50" fill="#111"/>
<rect x="445.30" y="174.6" width="0.60" height="14.50" fill="#111"/>
<rect x="445.90" y="174.6" width="1.00" height="14.50" fill="#111"/>
<rect x="446.90" y="174.6" width="0.80" height="14.50" fill="#111"/>
<rect x="447.70" y="174.6" width="1.20" height="14.50" fill="#111"/>
<rect x="448.90" y="174.6" width="1.20" height="14.50" fill="#111"/>
<rect x="450.10" y="174.6" width="0.80" height="14.50" fill="#111"/>
<rect x="450.90" y="174.6" width="0.50" height="14.50" fill="#111"/>
<rect x="451.40" y="174.6" width="0.80" height="14.50" fill="#888"/>
<rect x="452.20" y="174.6" width="0.60" height="14.50" fill="#111"/>
<rect x="452.80" y="174.6" width="0.60" height="14.50" fill="#111"/>
<rect x="453.40" y="174.6" width="0.50" height="14.50" fill="#111"/>
<rect x="453.90" y="174.6" width="0.50" height="14.50" fill="#666"/>
<rect x="454.40" y="174.6" width="0.80" height="14.50" fill="#111"/>
<rect x="455.20" y="174.6" width="0.80" height="14.50" fill="#111"/>
<rect x="456.00" y="174.6" width="0.60" height="14.50" fill="#666"/>
<rect x="456.60" y="174.6" width="1.20" height="14.50" fill="#111"/>
<rect x="457.80" y="174.6" width="0.50" height="14.50" fill="#111"/>
<rect x="458.30" y="174.6" width="0.60" height="14.50" fill="#666"/>
<rect x="458.90" y="174.6" width="0.60" height="14.50" fill="#111"/>
<rect x="459.50" y="174.6" width="1.20" height="14.50" fill="#eee"/>
<rect x="460.70" y="174.6" width="1.20" height="14.50" fill="#111"/>
<rect x="461.90" y="174.6" width="0.50" height="14.50" fill="#111"/>
<rect x="462.40" y="174.6" width="0.80" height="14.50" fill="#666"/>
<rect x="463.20" y="174.6" width="0.80" height="14.50" fill="#111"/>
<rect x="464.00" y="174.6" width="1.00" height="14.50" fill="#fff"/>
<rect x="465.00" y="174.6" width="0.60" height="14.50" fill="#111"/>
<rect x="465.60" y="174.6" width="0.50" height="14.50" fill="#111"/>
<rect x="466.10" y="174.6" width="0.60" height="14.50" fill="#111"/>
<rect x="466.70" y="174.6" width="0.60" height="14.50" fill="#111"/>
<rect x="467.30" y="174.6" width="1.20" height="14.50" fill="#111"/>
<rect x="468.50" y="174.6" width="0.60" height="14.50" fill="#111"/>
<rect x="469.10" y="174.6" width="0.50" height="14.50" fill="#111"/>
<rect x="469.60" y="174.6" width="1.20" height="14.50" fill="#111"/>
<rect x="470.80" y="174.6" width="1.00" height="14.50" fill="#111"/>
<rect x="471.80" y="174.6" width="0.60" height="14.50" fill="#111"/>
<rect x="472.40" y="174.6" width="0.60" height="14.50" fill="#111"/>
<rect x="473.00" y="174.6" width="1.00" height="14.50" fill="#111"/>
<rect x="474.00" y="174.6" width="1.00" height="14.50" fill="#111"/>
<rect x="475.00" y="174.6" width="1.00" height="14.50" fill="#fff"/>
<rect x="476.00" y="174.6" width="0.60" height="14.50" fill="#111"/>
<rect x="476.60" y="174.6" width="0.80" height="14.50" fill="#111"/>
<rect x="477.40" y="174.6" width="1.20" height="14.50" fill="#111"/>
<rect x="478.60" y="174.6" width="0.60" height="14.50" fill="#111"/>
<rect x="479.20" y="174.6" width="0.80" height="14.50" fill="#111"/>
<rect x="480.00" y="174.6" width="0.50" height="14.50" fill="#eee"/>
<rect x="480.50" y="174.6" width="1.20" height="14.50" fill="#111"/>
<rect x="481.70" y="174.6" width="1.20" height="14.50" fill="#111"/>
<rect x="482.90" y="174.6" width="0.50" height="14.50" fill="#111"/>
<rect x="483.40" y="174.6" width="0.50" height="14.50" fill="#111"/>
<rect x="483.90" y="174.6" width="1.20" height="14.50" fill="#ccc"/>
<rect x="485.10" y="174.6" width="0.80" height="14.50" fill="#111"/>
<rect x="485.90" y="174.6" width="1.00" height="14.50" fill="#eee"/>
<rect x="486.90" y="174.6" width="1.00" height="14.50" fill="#888"/>
<rect x="487.90" y="174.6" width="0.80" height="14.50" fill="#111"/>
<rect x="488.70" y="174.6" width="1.00" height="14.50" fill="#aaa"/>
<rect x="489.70" y="174.6" width="0.80" height="14.50" fill="#ccc"/>
<rect x="490.50" y="174.6" width="0.50" height="14.50" fill="#111"/>
<rect x="491.00" y="174.6" width="1.20" height="14.50" fill="#111"/>
<rect x="492.20" y="174.6" width="0.80" height="14.50" fill="#444"/>
<rect x="493.00" y="174.6" width="0.60" height="14.50" fill="#666"/>
<rect x="493.60" y="174.6" width="1.20" height="14.50" fill="#111"/>
<rect x="494.80" y="174.6" width="1.00" height="14.50" fill="#ccc"/>
<rect x="495.80" y="174.6" width="0.50" height="14.50" fill="#111"/>
<rect x="496.30" y="174.6" width="0.60" height="14.50" fill="#111"/>
<rect x="496.90" y="174.6" width="0.80" height="14.50" fill="#111"/>
<rect x="497.70" y="174.6" width="1.00" height="14.50" fill="#aaa"/>
<rect x="498.70" y="174.6" width="0.60" height="14.50" fill="#111"/>
<rect x="499.30" y="174.6" width="1.20" height="14.50" fill="#111"/>
<rect x="500.50" y="174.6" width="1.20" height="14.50" fill="#fff"/>
<rect x="501.70" y="174.6" width="1.20" height="14.50" fill="#111"/>
<rect x="502.90" y="174.6" width="0.50" height="14.50" fill="#111"/>
<rect x="503.40" y="174.6" width="1.20" height="14.50" fill="#111"/>
<rect x="504.60" y="174.6" width="1.20" height="14.50" fill="#ccc"/>
<rect x="505.80" y="174.6" width="0.50" height="14.50" fill="#111"/>
<rect x="506.30" y="174.6" width="1.20" height="14.50" fill="#eee"/>
<rect x="507.50" y="174.6" width="0.80" height="14.50" fill="#aaa"/>
<rect x="508.30" y="174.6" width="1.20" height="14.50" fill="#111"/>
<rect x="509.50" y="174.6" width="0.60" height="14.50" fill="#eee"/>
<rect x="510.10" y="174.6" width="1.00" height="14.50" fill="#111"/>
<rect x="511.10" y="174.6" width="1.00" height="14.50" fill="#fff"/>
<rect x="512.10" y="174.6" width="0.50" height="14.50" fill="#111"/>
<defs><linearGradient id="g4" x1="0" x2="1"><stop offset="0" stop-color="#c92f3f"/><stop offset="0.36" stop-color="#d03a4c"/><stop offset="0.46" stop-color="#dca0b4"/><stop offset="0.56" stop-color="#d8cce2"/><stop offset="0.68" stop-color="#aeb0dc"/><stop offset="0.76" stop-color="#5c5eb6"/><stop offset="1" stop-color="#3c3e9e"/></linearGradient></defs>
<rect x="422.0" y="189.1" width="90.60" height="3.50" fill="url(#g4)"/>
<line x1="422.0" y1="168.2" x2="517.8" y2="168.2" stroke="#000" stroke-width="1"/>
<polyline points="422.00,152.00 422.80,148.20 423.60,144.20 424.60,140.20 426.10,136.60 428.10,133.90 430.10,133.10 433.20,131.60 434.70,131.40 436.20,132.60 437.70,133.30 439.20,132.30 442.20,131.60 445.30,132.10 448.30,132.30 451.30,134.10 454.40,135.60 458.40,137.60 462.40,140.20 466.50,143.20 470.20,146.80 474.30,151.00 478.50,154.60 482.60,157.70 486.80,160.80 490.90,163.90 495.10,166.50 499.20,168.40 503.40,170.20 507.50,171.20 511.70,170.70 513.80,169.70" fill="none" stroke="#76ad48" stroke-width="1.25" stroke-linejoin="round"/>
<rect x="422.0" y="129.3" width="95.80" height="63.80" fill="none" stroke="#111" stroke-width="1"/>
<text x="481.60" y="136.30" font-size="7" font-weight="bold" font-style="normal" fill="#861c58" text-anchor="start" stroke="#861c58" stroke-width="0.15" >NES 1.54</text>
<text x="481.60" y="145.00" font-size="7" font-weight="normal" font-style="normal" fill="#000" text-anchor="start" stroke="#000" stroke-width="0.15" >NOM p 0.0</text>
<text x="481.60" y="153.40" font-size="7" font-weight="normal" font-style="normal" fill="#000" text-anchor="start" stroke="#000" stroke-width="0.15" >FDR q 0.0</text>
<text x="421.20" y="204.00" font-size="10" font-weight="bold" font-style="italic" fill="#7E2035" text-anchor="start" stroke="#7E2035" stroke-width="0.15" >Ezh2</text>
<text x="444.54" y="200.90" font-size="6.2" font-weight="bold" font-style="italic" fill="#7E2035" text-anchor="start" stroke="#7E2035" stroke-width="0.15" >Δ/Δ</text>
<text x="517.00" y="204.00" font-size="10" font-weight="bold" font-style="normal" fill="#000" text-anchor="end" stroke="#000" stroke-width="0.15" >WT</text>
<line x1="290.6" y1="270.20" x2="292.6" y2="270.20" stroke="#000" stroke-width="0.8"/>
<text x="289.80" y="271.10" font-size="6.0" font-weight="normal" font-style="normal" fill="#000" text-anchor="end" stroke="#000" stroke-width="0.1" >-0.2</text>
<line x1="290.6" y1="259.35" x2="292.6" y2="259.35" stroke="#000" stroke-width="0.8"/>
<text x="289.80" y="260.25" font-size="6.0" font-weight="normal" font-style="normal" fill="#000" text-anchor="end" stroke="#000" stroke-width="0.1" >-0.1</text>
<line x1="290.6" y1="248.50" x2="292.6" y2="248.50" stroke="#000" stroke-width="0.8"/>
<text x="289.80" y="249.40" font-size="6.0" font-weight="normal" font-style="normal" fill="#000" text-anchor="end" stroke="#000" stroke-width="0.1" >0.0</text>
<line x1="290.6" y1="237.65" x2="292.6" y2="237.65" stroke="#000" stroke-width="0.8"/>
<text x="289.80" y="238.55" font-size="6.0" font-weight="normal" font-style="normal" fill="#000" text-anchor="end" stroke="#000" stroke-width="0.1" >0.1</text>
<rect x="292.6" y="276.7" width="91.80" height="14.20" fill="#666"/>
<rect x="292.60" y="276.7" width="1.20" height="14.20" fill="#111"/>
<rect x="293.80" y="276.7" width="0.80" height="14.20" fill="#888"/>
<rect x="294.60" y="276.7" width="1.20" height="14.20" fill="#111"/>
<rect x="295.80" y="276.7" width="1.00" height="14.20" fill="#444"/>
<rect x="296.80" y="276.7" width="0.50" height="14.20" fill="#aaa"/>
<rect x="297.30" y="276.7" width="0.80" height="14.20" fill="#444"/>
<rect x="298.10" y="276.7" width="1.00" height="14.20" fill="#888"/>
<rect x="299.10" y="276.7" width="0.60" height="14.20" fill="#111"/>
<rect x="299.70" y="276.7" width="0.60" height="14.20" fill="#444"/>
<rect x="300.30" y="276.7" width="1.00" height="14.20" fill="#111"/>
<rect x="301.30" y="276.7" width="0.50" height="14.20" fill="#111"/>
<rect x="301.80" y="276.7" width="1.20" height="14.20" fill="#444"/>
<rect x="303.00" y="276.7" width="0.50" height="14.20" fill="#aaa"/>
<rect x="303.50" y="276.7" width="0.60" height="14.20" fill="#ccc"/>
<rect x="304.10" y="276.7" width="0.60" height="14.20" fill="#444"/>
<rect x="304.70" y="276.7" width="1.20" height="14.20" fill="#ccc"/>
<rect x="305.90" y="276.7" width="0.60" height="14.20" fill="#ccc"/>
<rect x="306.50" y="276.7" width="1.00" height="14.20" fill="#666"/>
<rect x="307.50" y="276.7" width="1.00" height="14.20" fill="#111"/>
<rect x="308.50" y="276.7" width="0.60" height="14.20" fill="#666"/>
<rect x="309.10" y="276.7" width="0.80" height="14.20" fill="#aaa"/>
<rect x="309.90" y="276.7" width="1.20" height="14.20" fill="#eee"/>
<rect x="311.10" y="276.7" width="0.50" height="14.20" fill="#666"/>
<rect x="311.60" y="276.7" width="1.00" height="14.20" fill="#ccc"/>
<rect x="312.60" y="276.7" width="1.00" height="14.20" fill="#444"/>
<rect x="313.60" y="276.7" width="0.50" height="14.20" fill="#444"/>
<rect x="314.10" y="276.7" width="0.80" height="14.20" fill="#aaa"/>
<rect x="314.90" y="276.7" width="1.20" height="14.20" fill="#eee"/>
<rect x="316.10" y="276.7" width="1.00" height="14.20" fill="#444"/>
<rect x="317.10" y="276.7" width="1.00" height="14.20" fill="#111"/>
<rect x="318.10" y="276.7" width="0.60" height="14.20" fill="#ccc"/>
<rect x="318.70" y="276.7" width="0.50" height="14.20" fill="#fff"/>
<rect x="319.20" y="276.7" width="0.80" height="14.20" fill="#888"/>
<rect x="320.00" y="276.7" width="0.80" height="14.20" fill="#aaa"/>
<rect x="320.80" y="276.7" width="1.20" height="14.20" fill="#eee"/>
<rect x="322.00" y="276.7" width="0.80" height="14.20" fill="#111"/>
<rect x="322.80" y="276.7" width="0.50" height="14.20" fill="#888"/>
<rect x="323.30" y="276.7" width="1.20" height="14.20" fill="#444"/>
<rect x="324.50" y="276.7" width="0.80" height="14.20" fill="#888"/>
<rect x="325.30" y="276.7" width="1.20" height="14.20" fill="#111"/>
<rect x="326.50" y="276.7" width="0.80" height="14.20" fill="#444"/>
<rect x="327.30" y="276.7" width="0.60" height="14.20" fill="#eee"/>
<rect x="327.90" y="276.7" width="1.00" height="14.20" fill="#111"/>
<rect x="328.90" y="276.7" width="0.50" height="14.20" fill="#111"/>
<rect x="329.40" y="276.7" width="1.20" height="14.20" fill="#666"/>
<rect x="330.60" y="276.7" width="0.50" height="14.20" fill="#888"/>
<rect x="331.10" y="276.7" width="0.80" height="14.20" fill="#fff"/>
<rect x="331.90" y="276.7" width="1.00" height="14.20" fill="#111"/>
<rect x="332.90" y="276.7" width="0.50" height="14.20" fill="#eee"/>
<rect x="333.40" y="276.7" width="0.60" height="14.20" fill="#111"/>
<rect x="334.00" y="276.7" width="1.20" height="14.20" fill="#fff"/>
<rect x="335.20" y="276.7" width="0.50" height="14.20" fill="#111"/>
<rect x="335.70" y="276.7" width="0.80" height="14.20" fill="#111"/>
<rect x="336.50" y="276.7" width="1.00" height="14.20" fill="#666"/>
<rect x="337.50" y="276.7" width="1.20" height="14.20" fill="#fff"/>
<rect x="338.70" y="276.7" width="1.00" height="14.20" fill="#eee"/>
<rect x="339.70" y="276.7" width="1.00" height="14.20" fill="#666"/>
<rect x="340.70" y="276.7" width="1.00" height="14.20" fill="#aaa"/>
<rect x="341.70" y="276.7" width="1.00" height="14.20" fill="#ccc"/>
<rect x="342.70" y="276.7" width="1.00" height="14.20" fill="#ccc"/>
<rect x="343.70" y="276.7" width="0.50" height="14.20" fill="#888"/>
<rect x="344.20" y="276.7" width="1.20" height="14.20" fill="#eee"/>
<rect x="345.40" y="276.7" width="0.50" height="14.20" fill="#eee"/>
<rect x="345.90" y="276.7" width="1.20" height="14.20" fill="#eee"/>
<rect x="347.10" y="276.7" width="0.80" height="14.20" fill="#888"/>
<rect x="347.90" y="276.7" width="0.80" height="14.20" fill="#eee"/>
<rect x="348.70" y="276.7" width="0.80" height="14.20" fill="#eee"/>
<rect x="349.50" y="276.7" width="0.60" height="14.20" fill="#444"/>
<rect x="350.10" y="276.7" width="1.00" height="14.20" fill="#666"/>
<rect x="351.10" y="276.7" width="0.80" height="14.20" fill="#666"/>
<rect x="351.90" y="276.7" width="0.80" height="14.20" fill="#eee"/>
<rect x="352.70" y="276.7" width="0.80" height="14.20" fill="#111"/>
<rect x="353.50" y="276.7" width="0.80" height="14.20" fill="#666"/>
<rect x="354.30" y="276.7" width="0.80" height="14.20" fill="#ccc"/>
<rect x="355.10" y="276.7" width="1.00" height="14.20" fill="#eee"/>
<rect x="356.10" y="276.7" width="1.20" height="14.20" fill="#111"/>
<rect x="357.30" y="276.7" width="0.60" height="14.20" fill="#111"/>
<rect x="357.90" y="276.7" width="0.80" height="14.20" fill="#fff"/>
<rect x="358.70" y="276.7" width="0.80" height="14.20" fill="#888"/>
<rect x="359.50" y="276.7" width="1.00" height="14.20" fill="#111"/>
<rect x="360.50" y="276.7" width="1.20" height="14.20" fill="#666"/>
<rect x="361.70" y="276.7" width="0.80" height="14.20" fill="#888"/>
<rect x="362.50" y="276.7" width="0.80" height="14.20" fill="#444"/>
<rect x="363.30" y="276.7" width="0.60" height="14.20" fill="#111"/>
<rect x="363.90" y="276.7" width="1.00" height="14.20" fill="#444"/>
<rect x="364.90" y="276.7" width="0.60" height="14.20" fill="#ccc"/>
<rect x="365.50" y="276.7" width="0.50" height="14.20" fill="#ccc"/>
<rect x="366.00" y="276.7" width="0.60" height="14.20" fill="#111"/>
<rect x="366.60" y="276.7" width="0.60" height="14.20" fill="#111"/>
<rect x="367.20" y="276.7" width="0.60" height="14.20" fill="#888"/>
<rect x="367.80" y="276.7" width="0.50" height="14.20" fill="#666"/>
<rect x="368.30" y="276.7" width="1.00" height="14.20" fill="#444"/>
<rect x="369.30" y="276.7" width="1.20" height="14.20" fill="#111"/>
<rect x="370.50" y="276.7" width="0.80" height="14.20" fill="#111"/>
<rect x="371.30" y="276.7" width="1.00" height="14.20" fill="#fff"/>
<rect x="372.30" y="276.7" width="0.50" height="14.20" fill="#eee"/>
<rect x="372.80" y="276.7" width="0.50" height="14.20" fill="#666"/>
<rect x="373.30" y="276.7" width="0.50" height="14.20" fill="#888"/>
<rect x="373.80" y="276.7" width="0.80" height="14.20" fill="#eee"/>
<rect x="374.60" y="276.7" width="0.80" height="14.20" fill="#fff"/>
<rect x="375.40" y="276.7" width="1.00" height="14.20" fill="#eee"/>
<rect x="376.40" y="276.7" width="1.00" height="14.20" fill="#111"/>
<rect x="377.40" y="276.7" width="1.20" height="14.20" fill="#666"/>
<rect x="378.60" y="276.7" width="0.60" height="14.20" fill="#aaa"/>
<rect x="379.20" y="276.7" width="0.80" height="14.20" fill="#aaa"/>
<rect x="380.00" y="276.7" width="1.00" height="14.20" fill="#111"/>
<rect x="381.00" y="276.7" width="1.20" height="14.20" fill="#ccc"/>
<rect x="382.20" y="276.7" width="0.80" height="14.20" fill="#fff"/>
<rect x="383.00" y="276.7" width="1.00" height="14.20" fill="#444"/>
<rect x="384.00" y="276.7" width="0.40" height="14.20" fill="#888"/>
<defs><linearGradient id="g5" x1="0" x2="1"><stop offset="0" stop-color="#c92f3f"/><stop offset="0.36" stop-color="#d03a4c"/><stop offset="0.46" stop-color="#dca0b4"/><stop offset="0.56" stop-color="#d8cce2"/><stop offset="0.68" stop-color="#aeb0dc"/><stop offset="0.76" stop-color="#5c5eb6"/><stop offset="1" stop-color="#3c3e9e"/></linearGradient></defs>
<rect x="292.6" y="290.9" width="91.80" height="2.80" fill="url(#g5)"/>
<line x1="292.6" y1="248.5" x2="389.6" y2="248.5" stroke="#000" stroke-width="1"/>
<polyline points="292.60,248.50 294.10,246.20 296.10,242.20 298.10,238.60 300.60,235.10 302.10,236.10 303.20,235.60 304.70,233.90 306.20,234.10 309.20,235.60 312.20,236.60 315.30,238.10 318.30,239.60 321.30,241.40 324.40,243.70 327.40,246.20 330.40,248.40 333.50,251.80 336.50,255.30 338.00,257.20 342.20,261.30 346.30,264.90 350.50,268.10 354.60,270.70 358.80,272.20 362.90,272.70 367.10,272.50 369.20,271.70 372.30,268.60 375.40,265.50 377.50,260.30 379.50,256.10 381.60,253.00 383.70,249.40 384.40,247.80" fill="none" stroke="#76ad48" stroke-width="1.25" stroke-linejoin="round"/>
<rect x="292.6" y="230.9" width="97.00" height="63.30" fill="none" stroke="#111" stroke-width="1"/>
<text x="351.80" y="237.90" font-size="7" font-weight="bold" font-style="normal" fill="#861c58" text-anchor="start" stroke="#861c58" stroke-width="0.15" >NES -0.91</text>
<text x="351.80" y="246.60" font-size="7" font-weight="normal" font-style="normal" fill="#000" text-anchor="start" stroke="#000" stroke-width="0.15" >NOM p 0.7</text>
<text x="351.80" y="255.00" font-size="7" font-weight="normal" font-style="normal" fill="#000" text-anchor="start" stroke="#000" stroke-width="0.15" >FDR q 1</text>
<text x="292.90" y="305.10" font-size="9.8" font-weight="bold" font-style="italic" fill="#7E2035" text-anchor="start" stroke="#7E2035" stroke-width="0.15" >Ezh1</text>
<text x="315.77" y="301.70" font-size="6.0760000000000005" font-weight="bold" font-style="italic" fill="#7E2035" text-anchor="start" stroke="#7E2035" stroke-width="0.15" >-/-</text>
<text x="388.80" y="305.10" font-size="10" font-weight="bold" font-style="normal" fill="#000" text-anchor="end" stroke="#000" stroke-width="0.15" >WT</text>
<text transform="translate(276.0,262.3) rotate(-90)" font-size="6.1" text-anchor="middle" fill="#000" stroke="#000" stroke-width="0.25">Enrichment score (ES)</text>
<line x1="420.0" y1="271.05" x2="422.0" y2="271.05" stroke="#000" stroke-width="0.8"/>
<text x="419.20" y="271.95" font-size="6.0" font-weight="normal" font-style="normal" fill="#000" text-anchor="end" stroke="#000" stroke-width="0.1" >-0.1</text>
<line x1="420.0" y1="263.10" x2="422.0" y2="263.10" stroke="#000" stroke-width="0.8"/>
<text x="419.20" y="264.00" font-size="6.0" font-weight="normal" font-style="normal" fill="#000" text-anchor="end" stroke="#000" stroke-width="0.1" >0.0</text>
<line x1="420.0" y1="255.15" x2="422.0" y2="255.15" stroke="#000" stroke-width="0.8"/>
<text x="419.20" y="256.05" font-size="6.0" font-weight="normal" font-style="normal" fill="#000" text-anchor="end" stroke="#000" stroke-width="0.1" >0.1</text>
<line x1="420.0" y1="247.20" x2="422.0" y2="247.20" stroke="#000" stroke-width="0.8"/>
<text x="419.20" y="248.10" font-size="6.0" font-weight="normal" font-style="normal" fill="#000" text-anchor="end" stroke="#000" stroke-width="0.1" >0.2</text>
<line x1="420.0" y1="239.25" x2="422.0" y2="239.25" stroke="#000" stroke-width="0.8"/>
<text x="419.20" y="240.15" font-size="6.0" font-weight="normal" font-style="normal" fill="#000" text-anchor="end" stroke="#000" stroke-width="0.1" >0.3</text>
<line x1="420.0" y1="231.30" x2="422.0" y2="231.30" stroke="#000" stroke-width="0.8"/>
<text x="419.20" y="232.20" font-size="6.0" font-weight="normal" font-style="normal" fill="#000" text-anchor="end" stroke="#000" stroke-width="0.1" >0.4</text>
<rect x="422.0" y="276.7" width="90.60" height="14.20" fill="#666"/>
<rect x="422.00" y="276.7" width="1.20" height="14.20" fill="#fff"/>
<rect x="423.20" y="276.7" width="0.80" height="14.20" fill="#111"/>
<rect x="424.00" y="276.7" width="0.60" height="14.20" fill="#666"/>
<rect x="424.60" y="276.7" width="0.80" height="14.20" fill="#111"/>
<rect x="425.40" y="276.7" width="0.50" height="14.20" fill="#111"/>
<rect x="425.90" y="276.7" width="0.60" height="14.20" fill="#666"/>
<rect x="426.50" y="276.7" width="1.20" height="14.20" fill="#444"/>
<rect x="427.70" y="276.7" width="0.60" height="14.20" fill="#888"/>
<rect x="428.30" y="276.7" width="0.80" height="14.20" fill="#aaa"/>
<rect x="429.10" y="276.7" width="1.00" height="14.20" fill="#444"/>
<rect x="430.10" y="276.7" width="0.80" height="14.20" fill="#eee"/>
<rect x="430.90" y="276.7" width="1.00" height="14.20" fill="#ccc"/>
<rect x="431.90" y="276.7" width="0.80" height="14.20" fill="#111"/>
<rect x="432.70" y="276.7" width="0.50" height="14.20" fill="#444"/>
<rect x="433.20" y="276.7" width="0.80" height="14.20" fill="#444"/>
<rect x="434.00" y="276.7" width="1.20" height="14.20" fill="#888"/>
<rect x="435.20" y="276.7" width="1.20" height="14.20" fill="#aaa"/>
<rect x="436.40" y="276.7" width="0.80" height="14.20" fill="#666"/>
<rect x="437.20" y="276.7" width="0.80" height="14.20" fill="#444"/>
<rect x="438.00" y="276.7" width="0.50" height="14.20" fill="#888"/>
<rect x="438.50" y="276.7" width="1.20" height="14.20" fill="#111"/>
<rect x="439.70" y="276.7" width="1.20" height="14.20" fill="#eee"/>
<rect x="440.90" y="276.7" width="0.60" height="14.20" fill="#444"/>
<rect x="441.50" y="276.7" width="0.60" height="14.20" fill="#888"/>
<rect x="442.10" y="276.7" width="1.20" height="14.20" fill="#111"/>
<rect x="443.30" y="276.7" width="0.60" height="14.20" fill="#111"/>
<rect x="443.90" y="276.7" width="0.80" height="14.20" fill="#888"/>
<rect x="444.70" y="276.7" width="1.20" height="14.20" fill="#666"/>
<rect x="445.90" y="276.7" width="1.00" height="14.20" fill="#666"/>
<rect x="446.90" y="276.7" width="0.60" height="14.20" fill="#fff"/>
<rect x="447.50" y="276.7" width="0.50" height="14.20" fill="#111"/>
<rect x="448.00" y="276.7" width="1.20" height="14.20" fill="#fff"/>
<rect x="449.20" y="276.7" width="0.50" height="14.20" fill="#ccc"/>
<rect x="449.70" y="276.7" width="0.50" height="14.20" fill="#fff"/>
<rect x="450.20" y="276.7" width="1.00" height="14.20" fill="#fff"/>
<rect x="451.20" y="276.7" width="0.50" height="14.20" fill="#666"/>
<rect x="451.70" y="276.7" width="0.80" height="14.20" fill="#fff"/>
<rect x="452.50" y="276.7" width="0.50" height="14.20" fill="#111"/>
<rect x="453.00" y="276.7" width="0.80" height="14.20" fill="#888"/>
<rect x="453.80" y="276.7" width="0.60" height="14.20" fill="#111"/>
<rect x="454.40" y="276.7" width="1.20" height="14.20" fill="#111"/>
<rect x="455.60" y="276.7" width="1.20" height="14.20" fill="#ccc"/>
<rect x="456.80" y="276.7" width="0.80" height="14.20" fill="#666"/>
<rect x="457.60" y="276.7" width="1.20" height="14.20" fill="#666"/>
<rect x="458.80" y="276.7" width="1.00" height="14.20" fill="#666"/>
<rect x="459.80" y="276.7" width="1.20" height="14.20" fill="#666"/>
<rect x="461.00" y="276.7" width="1.00" height="14.20" fill="#111"/>
<rect x="462.00" y="276.7" width="1.00" height="14.20" fill="#888"/>
<rect x="463.00" y="276.7" width="1.00" height="14.20" fill="#888"/>
<rect x="464.00" y="276.7" width="0.60" height="14.20" fill="#fff"/>
<rect x="464.60" y="276.7" width="1.20" height="14.20" fill="#888"/>
<rect x="465.80" y="276.7" width="1.00" height="14.20" fill="#ccc"/>
<rect x="466.80" y="276.7" width="0.80" height="14.20" fill="#888"/>
<rect x="467.60" y="276.7" width="1.00" height="14.20" fill="#ccc"/>
<rect x="468.60" y="276.7" width="0.50" height="14.20" fill="#888"/>
<rect x="469.10" y="276.7" width="0.50" height="14.20" fill="#eee"/>
<rect x="469.60" y="276.7" width="0.80" height="14.20" fill="#fff"/>
<rect x="470.40" y="276.7" width="1.20" height="14.20" fill="#111"/>
<rect x="471.60" y="276.7" width="0.60" height="14.20" fill="#111"/>
<rect x="472.20" y="276.7" width="0.80" height="14.20" fill="#666"/>
<rect x="473.00" y="276.7" width="1.20" height="14.20" fill="#666"/>
<rect x="474.20" y="276.7" width="0.60" height="14.20" fill="#111"/>
<rect x="474.80" y="276.7" width="0.80" height="14.20" fill="#ccc"/>
<rect x="475.60" y="276.7" width="1.20" height="14.20" fill="#444"/>
<rect x="476.80" y="276.7" width="0.50" height="14.20" fill="#aaa"/>
<rect x="477.30" y="276.7" width="1.00" height="14.20" fill="#444"/>
<rect x="478.30" y="276.7" width="0.50" height="14.20" fill="#ccc"/>
<rect x="478.80" y="276.7" width="1.20" height="14.20" fill="#aaa"/>
<rect x="480.00" y="276.7" width="0.60" height="14.20" fill="#666"/>
<rect x="480.60" y="276.7" width="1.00" height="14.20" fill="#444"/>
<rect x="481.60" y="276.7" width="0.60" height="14.20" fill="#ccc"/>
<rect x="482.20" y="276.7" width="1.00" height="14.20" fill="#666"/>
<rect x="483.20" y="276.7" width="1.00" height="14.20" fill="#666"/>
<rect x="484.20" y="276.7" width="1.20" height="14.20" fill="#111"/>
<rect x="485.40" y="276.7" width="0.80" height="14.20" fill="#eee"/>
<rect x="486.20" y="276.7" width="0.80" height="14.20" fill="#aaa"/>
<rect x="487.00" y="276.7" width="1.20" height="14.20" fill="#eee"/>
<rect x="488.20" y="276.7" width="0.80" height="14.20" fill="#fff"/>
<rect x="489.00" y="276.7" width="1.00" height="14.20" fill="#aaa"/>
<rect x="490.00" y="276.7" width="0.50" height="14.20" fill="#888"/>
<rect x="490.50" y="276.7" width="0.60" height="14.20" fill="#444"/>
<rect x="491.10" y="276.7" width="0.60" height="14.20" fill="#444"/>
<rect x="491.70" y="276.7" width="0.50" height="14.20" fill="#ccc"/>
<rect x="492.20" y="276.7" width="1.00" height="14.20" fill="#444"/>
<rect x="493.20" y="276.7" width="0.60" height="14.20" fill="#aaa"/>
<rect x="493.80" y="276.7" width="1.00" height="14.20" fill="#666"/>
<rect x="494.80" y="276.7" width="1.00" height="14.20" fill="#444"/>
<rect x="495.80" y="276.7" width="0.50" height="14.20" fill="#444"/>
<rect x="496.30" y="276.7" width="0.60" height="14.20" fill="#444"/>
<rect x="496.90" y="276.7" width="0.60" height="14.20" fill="#444"/>
<rect x="497.50" y="276.7" width="1.20" height="14.20" fill="#666"/>
<rect x="498.70" y="276.7" width="0.60" height="14.20" fill="#ccc"/>
<rect x="499.30" y="276.7" width="1.00" height="14.20" fill="#eee"/>
<rect x="500.30" y="276.7" width="0.60" height="14.20" fill="#444"/>
<rect x="500.90" y="276.7" width="1.20" height="14.20" fill="#666"/>
<rect x="502.10" y="276.7" width="1.00" height="14.20" fill="#444"/>
<rect x="503.10" y="276.7" width="1.00" height="14.20" fill="#ccc"/>
<rect x="504.10" y="276.7" width="0.60" height="14.20" fill="#eee"/>
<rect x="504.70" y="276.7" width="0.80" height="14.20" fill="#ccc"/>
<rect x="505.50" y="276.7" width="0.60" height="14.20" fill="#ccc"/>
<rect x="506.10" y="276.7" width="1.00" height="14.20" fill="#111"/>
<rect x="507.10" y="276.7" width="0.50" height="14.20" fill="#111"/>
<rect x="507.60" y="276.7" width="0.50" height="14.20" fill="#111"/>
<rect x="508.10" y="276.7" width="1.20" height="14.20" fill="#111"/>
<rect x="509.30" y="276.7" width="0.80" height="14.20" fill="#444"/>
<rect x="510.10" y="276.7" width="1.20" height="14.20" fill="#666"/>
<rect x="511.30" y="276.7" width="0.60" height="14.20" fill="#eee"/>
<rect x="511.90" y="276.7" width="0.50" height="14.20" fill="#888"/>
<rect x="512.40" y="276.7" width="0.20" height="14.20" fill="#ccc"/>
<defs><linearGradient id="g6" x1="0" x2="1"><stop offset="0" stop-color="#c92f3f"/><stop offset="0.36" stop-color="#d03a4c"/><stop offset="0.46" stop-color="#dca0b4"/><stop offset="0.56" stop-color="#d8cce2"/><stop offset="0.68" stop-color="#aeb0dc"/><stop offset="0.76" stop-color="#5c5eb6"/><stop offset="1" stop-color="#3c3e9e"/></linearGradient></defs>
<rect x="422.0" y="290.9" width="90.60" height="2.80" fill="url(#g6)"/>
<line x1="422.0" y1="263.1" x2="517.8" y2="263.1" stroke="#000" stroke-width="1"/>
<polyline points="422.00,263.10 422.00,256.30 423.10,251.30 424.10,247.20 425.60,242.70 427.10,239.60 429.10,238.10 430.60,236.60 432.10,233.60 433.20,233.10 435.20,233.90 438.20,235.10 442.20,235.90 445.30,237.60 448.30,238.60 451.30,240.10 454.40,242.20 458.40,244.70 462.40,247.70 466.50,250.40 470.20,253.50 474.30,256.90 478.50,260.30 482.60,262.90 486.80,265.30 490.90,267.50 495.10,269.60 499.20,271.20 503.40,272.20 506.00,272.50 507.50,271.20 509.60,269.60 511.20,267.00 512.60,263.90" fill="none" stroke="#76ad48" stroke-width="1.25" stroke-linejoin="round"/>
<rect x="422.0" y="230.8" width="95.80" height="63.40" fill="none" stroke="#111" stroke-width="1"/>
<text x="481.60" y="237.80" font-size="7" font-weight="bold" font-style="normal" fill="#861c58" text-anchor="start" stroke="#861c58" stroke-width="0.15" >NES 1.34</text>
<text x="481.60" y="246.50" font-size="7" font-weight="normal" font-style="normal" fill="#000" text-anchor="start" stroke="#000" stroke-width="0.15" >NOM p 0.1</text>
<text x="481.60" y="254.90" font-size="7" font-weight="normal" font-style="normal" fill="#000" text-anchor="start" stroke="#000" stroke-width="0.15" >FDR q 0.5</text>
<text x="421.20" y="305.10" font-size="10" font-weight="bold" font-style="italic" fill="#7E2035" text-anchor="start" stroke="#7E2035" stroke-width="0.15" >Ezh2</text>
<text x="444.54" y="302.00" font-size="6.2" font-weight="bold" font-style="italic" fill="#7E2035" text-anchor="start" stroke="#7E2035" stroke-width="0.15" >Δ/Δ</text>
<text x="517.00" y="305.10" font-size="10" font-weight="bold" font-style="normal" fill="#000" text-anchor="end" stroke="#000" stroke-width="0.15" >WT</text>
<text x="0.10" y="170.60" font-size="12" font-weight="bold" font-style="normal" fill="#000" text-anchor="start" stroke="#000" stroke-width="0.15" >C</text>
<text x="79.00" y="183.80" font-size="10" font-weight="bold" font-style="normal" fill="#000" text-anchor="middle" stroke="#000" stroke-width="0.15" >Bivalent</text>
<line x1="43" y1="197.00" x2="117.5" y2="197.00" stroke="#d0d0d0" stroke-width="1"/>
<line x1="40.5" y1="197.00" x2="43" y2="197.00" stroke="#000" stroke-width="1"/>
<text x="38.00" y="200.00" font-size="8.2" font-weight="normal" font-style="normal" fill="#000" text-anchor="end" stroke="#000" stroke-width="0.3" >1.0</text>
<line x1="43" y1="245.10" x2="117.5" y2="245.10" stroke="#d0d0d0" stroke-width="1"/>
<line x1="40.5" y1="245.10" x2="43" y2="245.10" stroke="#000" stroke-width="1"/>
<text x="38.00" y="248.10" font-size="8.2" font-weight="normal" font-style="normal" fill="#000" text-anchor="end" stroke="#000" stroke-width="0.3" >0.5</text>
<line x1="43" y1="293.20" x2="117.5" y2="293.20" stroke="#d0d0d0" stroke-width="1"/>
<line x1="40.5" y1="293.20" x2="43" y2="293.20" stroke="#000" stroke-width="1"/>
<text x="38.00" y="296.20" font-size="8.2" font-weight="normal" font-style="normal" fill="#000" text-anchor="end" stroke="#000" stroke-width="0.3" >0</text>
<line x1="40.5" y1="341.30" x2="43" y2="341.30" stroke="#000" stroke-width="1"/>
<text x="38.00" y="344.30" font-size="8.2" font-weight="normal" font-style="normal" fill="#000" text-anchor="end" stroke="#000" stroke-width="0.3" >-0.5</text>
<line x1="43" y1="196.50" x2="43" y2="341.80" stroke="#000" stroke-width="1.5"/>
<line x1="62" y1="246.06" x2="62" y2="324.95" stroke="#555" stroke-width="1.2"/>
<line x1="60.2" y1="246.06" x2="63.8" y2="246.06" stroke="#333" stroke-width="1.1"/>
<line x1="60.2" y1="324.95" x2="63.8" y2="324.95" stroke="#333" stroke-width="1.1"/>
<rect x="54.5" y="276.85" width="15" height="23.09" fill="#e2e2e2" stroke="#111" stroke-width="1.3"/>
<line x1="54.5" y1="293.20" x2="69.5" y2="293.20" stroke="#111" stroke-width="1.3"/>
<line x1="98.9" y1="241.25" x2="98.9" y2="313.40" stroke="#555" stroke-width="1.2"/>
<line x1="97.10000000000001" y1="241.25" x2="100.7" y2="241.25" stroke="#333" stroke-width="1.1"/>
<line x1="97.10000000000001" y1="313.40" x2="100.7" y2="313.40" stroke="#333" stroke-width="1.1"/>
<rect x="91.4" y="269.15" width="15.0" height="25.97" fill="#e2e2e2" stroke="#111" stroke-width="1.3"/>
<line x1="91.4" y1="289.35" x2="106.4" y2="289.35" stroke="#111" stroke-width="1.3"/>
<line x1="62" y1="225.5" x2="99" y2="225.5" stroke="#000" stroke-width="1.3"/>
<text x="79.60" y="225.50" font-size="10" font-weight="bold" font-style="normal" fill="#000" text-anchor="middle" stroke="#000" stroke-width="0.15" >***</text>
<text x="48.98" y="354.00" font-size="9.5" font-weight="normal" font-style="italic" fill="#000" text-anchor="start" stroke="#000" stroke-width="0.3" >Ezh1</text>
<text x="70.64" y="350.40" font-size="5.7" font-weight="normal" font-style="italic" fill="#000" text-anchor="start" stroke="#000" stroke-width="0.3" >-/-</text>
<text x="85.56" y="354.00" font-size="9.5" font-weight="normal" font-style="italic" fill="#000" text-anchor="start" stroke="#000" stroke-width="0.3" >Ezh2</text>
<text x="107.21" y="350.40" font-size="5.7" font-weight="normal" font-style="italic" fill="#000" text-anchor="start" stroke="#000" stroke-width="0.3" >Δ/Δ</text>
<text transform="translate(19.9,266.3) rotate(-90)" font-size="9.3" text-anchor="middle" fill="#000" stroke="#000" stroke-width="0.25">Relative expression (/WT : log2)</text>
<text x="192.00" y="184.20" font-size="10" font-weight="bold" font-style="normal" fill="#000" text-anchor="middle" stroke="#000" stroke-width="0.15" >H3K27me3 only</text>
<line x1="158.7" y1="197.45" x2="233.7" y2="197.45" stroke="#d0d0d0" stroke-width="1"/>
<line x1="156.2" y1="197.45" x2="158.7" y2="197.45" stroke="#000" stroke-width="1"/>
<text x="153.70" y="200.45" font-size="8.2" font-weight="normal" font-style="normal" fill="#000" text-anchor="end" stroke="#000" stroke-width="0.3" >0.5</text>
<line x1="158.7" y1="225.95" x2="233.7" y2="225.95" stroke="#d0d0d0" stroke-width="1"/>
<line x1="156.2" y1="225.95" x2="158.7" y2="225.95" stroke="#000" stroke-width="1"/>
<text x="153.70" y="228.95" font-size="8.2" font-weight="normal" font-style="normal" fill="#000" text-anchor="end" stroke="#000" stroke-width="0.3" >0.3</text>
<line x1="158.7" y1="254.45" x2="233.7" y2="254.45" stroke="#d0d0d0" stroke-width="1"/>
<line x1="156.2" y1="254.45" x2="158.7" y2="254.45" stroke="#000" stroke-width="1"/>
<text x="153.70" y="257.45" font-size="8.2" font-weight="normal" font-style="normal" fill="#000" text-anchor="end" stroke="#000" stroke-width="0.3" >0.1</text>
<line x1="158.7" y1="282.95" x2="233.7" y2="282.95" stroke="#d0d0d0" stroke-width="1"/>
<line x1="156.2" y1="282.95" x2="158.7" y2="282.95" stroke="#000" stroke-width="1"/>
<text x="153.70" y="285.95" font-size="8.2" font-weight="normal" font-style="normal" fill="#000" text-anchor="end" stroke="#000" stroke-width="0.3" >-0.1</text>
<line x1="158.7" y1="311.45" x2="233.7" y2="311.45" stroke="#d0d0d0" stroke-width="1"/>
<line x1="156.2" y1="311.45" x2="158.7" y2="311.45" stroke="#000" stroke-width="1"/>
<text x="153.70" y="314.45" font-size="8.2" font-weight="normal" font-style="normal" fill="#000" text-anchor="end" stroke="#000" stroke-width="0.3" >-0.3</text>
<line x1="156.2" y1="339.95" x2="158.7" y2="339.95" stroke="#000" stroke-width="1"/>
<text x="153.70" y="342.95" font-size="8.2" font-weight="normal" font-style="normal" fill="#000" text-anchor="end" stroke="#000" stroke-width="0.3" >-0.5</text>
<line x1="158.7" y1="196.95" x2="158.7" y2="340.45" stroke="#000" stroke-width="1.5"/>
<line x1="178" y1="217.40" x2="178" y2="296.49" stroke="#555" stroke-width="1.2"/>
<line x1="176.2" y1="217.40" x2="179.8" y2="217.40" stroke="#333" stroke-width="1.1"/>
<line x1="176.2" y1="296.49" x2="179.8" y2="296.49" stroke="#333" stroke-width="1.1"/>
<rect x="170.5" y="257.30" width="15" height="17.10" fill="#e2e2e2" stroke="#111" stroke-width="1.3"/>
<line x1="170.5" y1="268.70" x2="185.5" y2="268.70" stroke="#111" stroke-width="1.3"/>
<line x1="215" y1="224.52" x2="215" y2="292.50" stroke="#555" stroke-width="1.2"/>
<line x1="213.2" y1="224.52" x2="216.8" y2="224.52" stroke="#333" stroke-width="1.1"/>
<line x1="213.2" y1="292.50" x2="216.8" y2="292.50" stroke="#333" stroke-width="1.1"/>
<rect x="207.5" y="253.02" width="15" height="19.38" fill="#e2e2e2" stroke="#111" stroke-width="1.3"/>
<line x1="207.5" y1="268.70" x2="222.5" y2="268.70" stroke="#111" stroke-width="1.3"/>
<line x1="177.5" y1="212.5" x2="215.7" y2="212.5" stroke="#000" stroke-width="1.3"/>
<text x="195.90" y="212.60" font-size="10" font-weight="bold" font-style="normal" fill="#000" text-anchor="middle" stroke="#000" stroke-width="0.15" >***</text>
<text x="167.98" y="354.00" font-size="9.5" font-weight="normal" font-style="italic" fill="#000" text-anchor="start" stroke="#000" stroke-width="0.3" >Ezh1</text>
<text x="189.64" y="350.40" font-size="5.7" font-weight="normal" font-style="italic" fill="#000" text-anchor="start" stroke="#000" stroke-width="0.3" >-/-</text>
<text x="203.26" y="354.00" font-size="9.5" font-weight="normal" font-style="italic" fill="#000" text-anchor="start" stroke="#000" stroke-width="0.3" >Ezh2</text>
<text x="224.91" y="350.40" font-size="5.7" font-weight="normal" font-style="italic" fill="#000" text-anchor="start" stroke="#000" stroke-width="0.3" >Δ/Δ</text>
<text transform="translate(134.2,266.3) rotate(-90)" font-size="9.3" text-anchor="middle" fill="#000" stroke="#000" stroke-width="0.25">Relative expression (/WT : log2)</text>
<text x="-0.10" y="371.60" font-size="12" font-weight="bold" font-style="normal" fill="#000" text-anchor="start" stroke="#000" stroke-width="0.15" >D</text>
<line x1="96.30000000000001" y1="462.30" x2="98.9" y2="462.30" stroke="#000" stroke-width="1.3"/>
<text x="93.30" y="465.00" font-size="8.4" font-weight="normal" font-style="normal" fill="#000" text-anchor="end" stroke="#000" stroke-width="0.3" >0</text>
<line x1="96.30000000000001" y1="450.50" x2="98.9" y2="450.50" stroke="#000" stroke-width="1.3"/>
<text x="93.30" y="453.20" font-size="8.4" font-weight="normal" font-style="normal" fill="#000" text-anchor="end" stroke="#000" stroke-width="0.3" >0.2</text>
<line x1="96.30000000000001" y1="438.70" x2="98.9" y2="438.70" stroke="#000" stroke-width="1.3"/>
<text x="93.30" y="441.40" font-size="8.4" font-weight="normal" font-style="normal" fill="#000" text-anchor="end" stroke="#000" stroke-width="0.3" >0.4</text>
<line x1="96.30000000000001" y1="426.90" x2="98.9" y2="426.90" stroke="#000" stroke-width="1.3"/>
<text x="93.30" y="429.60" font-size="8.4" font-weight="normal" font-style="normal" fill="#000" text-anchor="end" stroke="#000" stroke-width="0.3" >0.6</text>
<line x1="96.30000000000001" y1="415.10" x2="98.9" y2="415.10" stroke="#000" stroke-width="1.3"/>
<text x="93.30" y="417.80" font-size="8.4" font-weight="normal" font-style="normal" fill="#000" text-anchor="end" stroke="#000" stroke-width="0.3" >0.8</text>
<line x1="96.30000000000001" y1="403.30" x2="98.9" y2="403.30" stroke="#000" stroke-width="1.3"/>
<text x="93.30" y="406.00" font-size="8.4" font-weight="normal" font-style="normal" fill="#000" text-anchor="end" stroke="#000" stroke-width="0.3" >1.0</text>
<line x1="96.30000000000001" y1="391.50" x2="98.9" y2="391.50" stroke="#000" stroke-width="1.3"/>
<text x="93.30" y="394.20" font-size="8.4" font-weight="normal" font-style="normal" fill="#000" text-anchor="end" stroke="#000" stroke-width="0.3" >1.2</text>
<line x1="98.9" y1="390.90" x2="98.9" y2="463.10" stroke="#000" stroke-width="1.6"/>
<line x1="98.9" y1="462.3" x2="175.5" y2="462.3" stroke="#000" stroke-width="1.6"/>
<rect x="103.4" y="402.71" width="18.5" height="59.59" fill="#000"/>
<rect x="130.5" y="452.27" width="17.69999999999999" height="10.03" fill="#000"/>
<rect x="157.6" y="402.71" width="17.700000000000017" height="59.59" fill="#000"/>
<line x1="112.6" y1="462.3" x2="112.6" y2="465.3" stroke="#000" stroke-width="1.3"/>
<line x1="139.4" y1="462.3" x2="139.4" y2="465.3" stroke="#000" stroke-width="1.3"/>
<line x1="166.6" y1="462.3" x2="166.6" y2="465.3" stroke="#000" stroke-width="1.3"/>
<text x="112.00" y="481.70" font-size="9.8" font-weight="normal" font-style="normal" fill="#000" text-anchor="middle" stroke="#000" stroke-width="0.3" >WT</text>
<text x="125.36" y="481.70" font-size="9.8" font-weight="normal" font-style="italic" fill="#000" text-anchor="start" stroke="#000" stroke-width="0.3" >Ezh1</text>
<text x="147.69" y="477.90" font-size="5.88" font-weight="normal" font-style="italic" fill="#000" text-anchor="start" stroke="#000" stroke-width="0.3" >-/-</text>
<text x="158.57" y="481.70" font-size="9.8" font-weight="normal" font-style="italic" fill="#000" text-anchor="start" stroke="#000" stroke-width="0.3" >Ezh2</text>
<text x="180.91" y="477.90" font-size="5.88" font-weight="normal" font-style="italic" fill="#000" text-anchor="start" stroke="#000" stroke-width="0.3" >Δ/Δ</text>
<text transform="translate(74.6,426) rotate(-90)" font-size="10.2" text-anchor="middle" fill="#000" stroke="#000" stroke-width="0.25"><tspan font-style="italic">mEzh1</tspan> expression</text>
<text x="259.40" y="371.60" font-size="12" font-weight="bold" font-style="normal" fill="#000" text-anchor="start" stroke="#000" stroke-width="0.15" >E</text>
<text x="343.00" y="354.20" font-size="9.5" font-weight="bold" font-style="normal" fill="#000" text-anchor="middle" stroke="#000" stroke-width="0.15" >Ezh1</text>
<line x1="301.4" y1="454.40" x2="304.4" y2="454.40" stroke="#000" stroke-width="1.2"/>
<text x="299.10" y="456.85" font-size="6.8" font-weight="bold" font-style="normal" fill="#000" text-anchor="end" stroke="#000" stroke-width="0.15" >0</text>
<line x1="301.4" y1="439.62" x2="304.4" y2="439.62" stroke="#000" stroke-width="1.2"/>
<text x="299.10" y="442.07" font-size="6.8" font-weight="bold" font-style="normal" fill="#000" text-anchor="end" stroke="#000" stroke-width="0.15" >200</text>
<line x1="301.4" y1="424.84" x2="304.4" y2="424.84" stroke="#000" stroke-width="1.2"/>
<text x="299.10" y="427.29" font-size="6.8" font-weight="bold" font-style="normal" fill="#000" text-anchor="end" stroke="#000" stroke-width="0.15" >400</text>
<line x1="301.4" y1="410.06" x2="304.4" y2="410.06" stroke="#000" stroke-width="1.2"/>
<text x="299.10" y="412.51" font-size="6.8" font-weight="bold" font-style="normal" fill="#000" text-anchor="end" stroke="#000" stroke-width="0.15" >600</text>
<line x1="301.4" y1="395.28" x2="304.4" y2="395.28" stroke="#000" stroke-width="1.2"/>
<text x="299.10" y="397.73" font-size="6.8" font-weight="bold" font-style="normal" fill="#000" text-anchor="end" stroke="#000" stroke-width="0.15" >800</text>
<line x1="301.4" y1="380.50" x2="304.4" y2="380.50" stroke="#000" stroke-width="1.2"/>
<text x="299.10" y="382.95" font-size="6.8" font-weight="bold" font-style="normal" fill="#000" text-anchor="end" stroke="#000" stroke-width="0.15" >1000</text>
<line x1="304.4" y1="379.90" x2="304.4" y2="455.0" stroke="#000" stroke-width="1.2"/>
<line x1="304.4" y1="454.4" x2="384.6" y2="454.4" stroke="#000" stroke-width="1.2"/>
<line x1="318.2" y1="454.4" x2="318.2" y2="457.2" stroke="#000" stroke-width="1.2"/>
<line x1="344.6" y1="454.4" x2="344.6" y2="457.2" stroke="#000" stroke-width="1.2"/>
<line x1="371.4" y1="454.4" x2="371.4" y2="457.2" stroke="#000" stroke-width="1.2"/>
<circle cx="313.30" cy="430.70" r="1.35" fill="#111"/>
<circle cx="319.70" cy="429.80" r="1.35" fill="#111"/>
<circle cx="310.50" cy="435.30" r="1.35" fill="#111"/>
<circle cx="315.10" cy="435.30" r="1.35" fill="#111"/>
<circle cx="317.80" cy="436.20" r="1.35" fill="#111"/>
<circle cx="320.60" cy="437.10" r="1.35" fill="#111"/>
<circle cx="324.20" cy="436.20" r="1.35" fill="#111"/>
<circle cx="313.30" cy="439.90" r="1.35" fill="#111"/>
<circle cx="317.80" cy="440.80" r="1.35" fill="#111"/>
<circle cx="322.40" cy="440.40" r="1.35" fill="#111"/>
<circle cx="317.80" cy="444.40" r="1.35" fill="#111"/>
<circle cx="309.80" cy="437.50" r="1.35" fill="#111"/>
<circle cx="326.00" cy="438.00" r="1.35" fill="#111"/>
<circle cx="344.50" cy="392.90" r="1.35" fill="#94596e"/>
<circle cx="337.90" cy="412.30" r="1.35" fill="#94596e"/>
<circle cx="342.50" cy="414.10" r="1.35" fill="#94596e"/>
<circle cx="346.50" cy="413.60" r="1.35" fill="#94596e"/>
<circle cx="351.10" cy="410.90" r="1.35" fill="#94596e"/>
<circle cx="342.50" cy="419.30" r="1.35" fill="#94596e"/>
<circle cx="346.50" cy="419.30" r="1.35" fill="#94596e"/>
<circle cx="338.10" cy="421.50" r="1.35" fill="#94596e"/>
<circle cx="340.27" cy="422.39" r="1.35" fill="#94596e"/>
<circle cx="342.43" cy="422.92" r="1.35" fill="#94596e"/>
<circle cx="344.60" cy="423.10" r="1.35" fill="#94596e"/>
<circle cx="346.77" cy="422.92" r="1.35" fill="#94596e"/>
<circle cx="348.93" cy="422.39" r="1.35" fill="#94596e"/>
<circle cx="351.10" cy="421.50" r="1.35" fill="#94596e"/>
<circle cx="337.41" cy="424.60" r="1.35" fill="#94596e"/>
<circle cx="339.47" cy="425.38" r="1.35" fill="#94596e"/>
<circle cx="341.52" cy="425.91" r="1.35" fill="#94596e"/>
<circle cx="343.57" cy="426.17" r="1.35" fill="#94596e"/>
<circle cx="345.63" cy="426.17" r="1.35" fill="#94596e"/>
<circle cx="347.68" cy="425.91" r="1.35" fill="#94596e"/>
<circle cx="349.73" cy="425.38" r="1.35" fill="#94596e"/>
<circle cx="351.79" cy="424.60" r="1.35" fill="#94596e"/>
<circle cx="336.76" cy="427.70" r="1.35" fill="#94596e"/>
<circle cx="339.00" cy="428.48" r="1.35" fill="#94596e"/>
<circle cx="341.24" cy="429.01" r="1.35" fill="#94596e"/>
<circle cx="343.48" cy="429.27" r="1.35" fill="#94596e"/>
<circle cx="345.72" cy="429.27" r="1.35" fill="#94596e"/>
<circle cx="347.96" cy="429.01" r="1.35" fill="#94596e"/>
<circle cx="350.20" cy="428.48" r="1.35" fill="#94596e"/>
<circle cx="352.44" cy="427.70" r="1.35" fill="#94596e"/>
<circle cx="336.24" cy="430.80" r="1.35" fill="#94596e"/>
<circle cx="338.33" cy="431.50" r="1.35" fill="#94596e"/>
<circle cx="340.42" cy="432.00" r="1.35" fill="#94596e"/>
<circle cx="342.51" cy="432.30" r="1.35" fill="#94596e"/>
<circle cx="344.60" cy="432.40" r="1.35" fill="#94596e"/>
<circle cx="346.69" cy="432.30" r="1.35" fill="#94596e"/>
<circle cx="348.78" cy="432.00" r="1.35" fill="#94596e"/>
<circle cx="350.87" cy="431.50" r="1.35" fill="#94596e"/>
<circle cx="352.96" cy="430.80" r="1.35" fill="#94596e"/>
<circle cx="336.02" cy="433.90" r="1.35" fill="#94596e"/>
<circle cx="338.17" cy="434.60" r="1.35" fill="#94596e"/>
<circle cx="340.31" cy="435.10" r="1.35" fill="#94596e"/>
<circle cx="342.46" cy="435.40" r="1.35" fill="#94596e"/>
<circle cx="344.60" cy="435.50" r="1.35" fill="#94596e"/>
<circle cx="346.74" cy="435.40" r="1.35" fill="#94596e"/>
<circle cx="348.89" cy="435.10" r="1.35" fill="#94596e"/>
<circle cx="351.03" cy="434.60" r="1.35" fill="#94596e"/>
<circle cx="353.18" cy="433.90" r="1.35" fill="#94596e"/>
<circle cx="335.80" cy="437.00" r="1.35" fill="#94596e"/>
<circle cx="338.00" cy="437.70" r="1.35" fill="#94596e"/>
<circle cx="340.20" cy="438.20" r="1.35" fill="#94596e"/>
<circle cx="342.40" cy="438.50" r="1.35" fill="#94596e"/>
<circle cx="344.60" cy="438.60" r="1.35" fill="#94596e"/>
<circle cx="346.80" cy="438.50" r="1.35" fill="#94596e"/>
<circle cx="349.00" cy="438.20" r="1.35" fill="#94596e"/>
<circle cx="351.20" cy="437.70" r="1.35" fill="#94596e"/>
<circle cx="353.40" cy="437.00" r="1.35" fill="#94596e"/>
<circle cx="336.42" cy="440.10" r="1.35" fill="#94596e"/>
<circle cx="338.46" cy="440.80" r="1.35" fill="#94596e"/>
<circle cx="340.51" cy="441.30" r="1.35" fill="#94596e"/>
<circle cx="342.55" cy="441.60" r="1.35" fill="#94596e"/>
<circle cx="344.60" cy="441.70" r="1.35" fill="#94596e"/>
<circle cx="346.65" cy="441.60" r="1.35" fill="#94596e"/>
<circle cx="348.69" cy="441.30" r="1.35" fill="#94596e"/>
<circle cx="350.74" cy="440.80" r="1.35" fill="#94596e"/>
<circle cx="352.78" cy="440.10" r="1.35" fill="#94596e"/>
<circle cx="338.07" cy="443.20" r="1.35" fill="#94596e"/>
<circle cx="340.24" cy="444.09" r="1.35" fill="#94596e"/>
<circle cx="342.42" cy="444.62" r="1.35" fill="#94596e"/>
<circle cx="344.60" cy="444.80" r="1.35" fill="#94596e"/>
<circle cx="346.78" cy="444.62" r="1.35" fill="#94596e"/>
<circle cx="348.96" cy="444.09" r="1.35" fill="#94596e"/>
<circle cx="351.13" cy="443.20" r="1.35" fill="#94596e"/>
<circle cx="368.50" cy="431.20" r="1.35" fill="#8a2a9c"/>
<circle cx="372.20" cy="432.70" r="1.35" fill="#8a2a9c"/>
<circle cx="376.00" cy="431.80" r="1.35" fill="#8a2a9c"/>
<circle cx="366.20" cy="437.60" r="1.35" fill="#8a2a9c"/>
<circle cx="369.70" cy="437.90" r="1.35" fill="#8a2a9c"/>
<circle cx="374.20" cy="437.60" r="1.35" fill="#8a2a9c"/>
<circle cx="378.80" cy="437.90" r="1.35" fill="#8a2a9c"/>
<circle cx="369.70" cy="441.50" r="1.35" fill="#8a2a9c"/>
<circle cx="375.00" cy="441.00" r="1.35" fill="#8a2a9c"/>
<circle cx="372.30" cy="443.00" r="1.35" fill="#8a2a9c"/>
<line x1="309.6" y1="436.2" x2="326" y2="436.2" stroke="#000" stroke-width="1.6"/>
<line x1="335.9" y1="437.0" x2="353.7" y2="437.0" stroke="#000" stroke-width="1.6"/>
<line x1="363.5" y1="439.3" x2="380" y2="439.3" stroke="#000" stroke-width="1.6"/>
<polyline points="317.8,376.20000000000005 317.8,372.6 371.3,372.6 371.3,376.20000000000005" fill="none" stroke="#000" stroke-width="1.4"/>
<polyline points="317.8,387.3 317.8,383.7 342.9,383.7 342.9,387.3" fill="none" stroke="#000" stroke-width="1.4"/>
<polyline points="346.7,387.3 346.7,383.7 371.3,383.7 371.3,387.3" fill="none" stroke="#000" stroke-width="1.4"/>
<text x="344.60" y="368.00" font-size="7" font-weight="normal" font-style="normal" fill="#000" text-anchor="middle" stroke="#000" stroke-width="0.3" >ns</text>
<text x="330.50" y="380.80" font-size="7" font-weight="normal" font-style="normal" fill="#000" text-anchor="middle" stroke="#000" stroke-width="0.3" >ns</text>
<text x="359.00" y="380.80" font-size="7" font-weight="normal" font-style="normal" fill="#000" text-anchor="middle" stroke="#000" stroke-width="0.3" >ns</text>
<text transform="translate(275.2,415.5) rotate(-90)" font-size="8.9" font-weight="bold" text-anchor="middle" fill="#000" stroke="#000" stroke-width="0.15">Relative expression</text>
<text x="477.00" y="354.20" font-size="9.5" font-weight="bold" font-style="normal" fill="#000" text-anchor="middle" stroke="#000" stroke-width="0.15" >Ezh2</text>
<line x1="433.5" y1="454.70" x2="436.5" y2="454.70" stroke="#000" stroke-width="1.2"/>
<text x="431.20" y="457.15" font-size="6.8" font-weight="bold" font-style="normal" fill="#000" text-anchor="end" stroke="#000" stroke-width="0.15" >0</text>
<line x1="433.5" y1="436.25" x2="436.5" y2="436.25" stroke="#000" stroke-width="1.2"/>
<text x="431.20" y="438.70" font-size="6.8" font-weight="bold" font-style="normal" fill="#000" text-anchor="end" stroke="#000" stroke-width="0.15" >500</text>
<line x1="433.5" y1="417.80" x2="436.5" y2="417.80" stroke="#000" stroke-width="1.2"/>
<text x="431.20" y="420.25" font-size="6.8" font-weight="bold" font-style="normal" fill="#000" text-anchor="end" stroke="#000" stroke-width="0.15" >1000</text>
<line x1="433.5" y1="399.35" x2="436.5" y2="399.35" stroke="#000" stroke-width="1.2"/>
<text x="431.20" y="401.80" font-size="6.8" font-weight="bold" font-style="normal" fill="#000" text-anchor="end" stroke="#000" stroke-width="0.15" >1500</text>
<line x1="433.5" y1="380.90" x2="436.5" y2="380.90" stroke="#000" stroke-width="1.2"/>
<text x="431.20" y="383.35" font-size="6.8" font-weight="bold" font-style="normal" fill="#000" text-anchor="end" stroke="#000" stroke-width="0.15" >2000</text>
<line x1="436.5" y1="380.30" x2="436.5" y2="455.3" stroke="#000" stroke-width="1.2"/>
<line x1="436.5" y1="454.7" x2="516.3" y2="454.7" stroke="#000" stroke-width="1.2"/>
<line x1="450.0" y1="454.7" x2="450.0" y2="457.5" stroke="#000" stroke-width="1.2"/>
<line x1="476.4" y1="454.7" x2="476.4" y2="457.5" stroke="#000" stroke-width="1.2"/>
<line x1="503.4" y1="454.7" x2="503.4" y2="457.5" stroke="#000" stroke-width="1.2"/>
<circle cx="449.40" cy="395.40" r="1.35" fill="#111"/>
<circle cx="445.60" cy="405.30" r="1.35" fill="#111"/>
<circle cx="449.90" cy="407.00" r="1.35" fill="#111"/>
<circle cx="454.20" cy="405.80" r="1.35" fill="#111"/>
<circle cx="445.20" cy="412.20" r="1.35" fill="#111"/>
<circle cx="449.90" cy="413.10" r="1.35" fill="#111"/>
<circle cx="454.20" cy="410.50" r="1.35" fill="#111"/>
<circle cx="443.00" cy="416.50" r="1.35" fill="#111"/>
<circle cx="447.30" cy="417.40" r="1.35" fill="#111"/>
<circle cx="451.60" cy="417.90" r="1.35" fill="#111"/>
<circle cx="456.00" cy="417.40" r="1.35" fill="#111"/>
<circle cx="446.40" cy="420.00" r="1.35" fill="#111"/>
<circle cx="449.90" cy="420.90" r="1.35" fill="#111"/>
<circle cx="452.50" cy="419.70" r="1.35" fill="#111"/>
<circle cx="447.30" cy="422.10" r="1.35" fill="#111"/>
<circle cx="451.60" cy="426.60" r="1.35" fill="#111"/>
<circle cx="449.40" cy="434.70" r="1.35" fill="#111"/>
<circle cx="478.50" cy="397.50" r="1.35" fill="#94596e"/>
<circle cx="471.50" cy="401.30" r="1.35" fill="#94596e"/>
<circle cx="474.70" cy="405.30" r="1.35" fill="#94596e"/>
<circle cx="478.80" cy="406.20" r="1.35" fill="#94596e"/>
<circle cx="468.60" cy="408.00" r="1.35" fill="#94596e"/>
<circle cx="470.83" cy="408.98" r="1.35" fill="#94596e"/>
<circle cx="473.06" cy="409.63" r="1.35" fill="#94596e"/>
<circle cx="475.29" cy="409.96" r="1.35" fill="#94596e"/>
<circle cx="477.51" cy="409.96" r="1.35" fill="#94596e"/>
<circle cx="479.74" cy="409.63" r="1.35" fill="#94596e"/>
<circle cx="481.97" cy="408.98" r="1.35" fill="#94596e"/>
<circle cx="484.20" cy="408.00" r="1.35" fill="#94596e"/>
<circle cx="468.31" cy="411.40" r="1.35" fill="#94596e"/>
<circle cx="470.33" cy="412.27" r="1.35" fill="#94596e"/>
<circle cx="472.35" cy="412.90" r="1.35" fill="#94596e"/>
<circle cx="474.38" cy="413.27" r="1.35" fill="#94596e"/>
<circle cx="476.40" cy="413.40" r="1.35" fill="#94596e"/>
<circle cx="478.42" cy="413.27" r="1.35" fill="#94596e"/>
<circle cx="480.45" cy="412.90" r="1.35" fill="#94596e"/>
<circle cx="482.47" cy="412.27" r="1.35" fill="#94596e"/>
<circle cx="484.49" cy="411.40" r="1.35" fill="#94596e"/>
<circle cx="468.02" cy="414.80" r="1.35" fill="#94596e"/>
<circle cx="470.11" cy="415.67" r="1.35" fill="#94596e"/>
<circle cx="472.21" cy="416.30" r="1.35" fill="#94596e"/>
<circle cx="474.30" cy="416.67" r="1.35" fill="#94596e"/>
<circle cx="476.40" cy="416.80" r="1.35" fill="#94596e"/>
<circle cx="478.50" cy="416.67" r="1.35" fill="#94596e"/>
<circle cx="480.59" cy="416.30" r="1.35" fill="#94596e"/>
<circle cx="482.69" cy="415.67" r="1.35" fill="#94596e"/>
<circle cx="484.78" cy="414.80" r="1.35" fill="#94596e"/>
<circle cx="468.00" cy="418.20" r="1.35" fill="#94596e"/>
<circle cx="470.10" cy="419.07" r="1.35" fill="#94596e"/>
<circle cx="472.20" cy="419.70" r="1.35" fill="#94596e"/>
<circle cx="474.30" cy="420.07" r="1.35" fill="#94596e"/>
<circle cx="476.40" cy="420.20" r="1.35" fill="#94596e"/>
<circle cx="478.50" cy="420.07" r="1.35" fill="#94596e"/>
<circle cx="480.60" cy="419.70" r="1.35" fill="#94596e"/>
<circle cx="482.70" cy="419.07" r="1.35" fill="#94596e"/>
<circle cx="484.80" cy="418.20" r="1.35" fill="#94596e"/>
<circle cx="468.00" cy="421.60" r="1.35" fill="#94596e"/>
<circle cx="470.10" cy="422.47" r="1.35" fill="#94596e"/>
<circle cx="472.20" cy="423.10" r="1.35" fill="#94596e"/>
<circle cx="474.30" cy="423.47" r="1.35" fill="#94596e"/>
<circle cx="476.40" cy="423.60" r="1.35" fill="#94596e"/>
<circle cx="478.50" cy="423.47" r="1.35" fill="#94596e"/>
<circle cx="480.60" cy="423.10" r="1.35" fill="#94596e"/>
<circle cx="482.70" cy="422.47" r="1.35" fill="#94596e"/>
<circle cx="484.80" cy="421.60" r="1.35" fill="#94596e"/>
<circle cx="468.00" cy="425.00" r="1.35" fill="#94596e"/>
<circle cx="470.10" cy="425.87" r="1.35" fill="#94596e"/>
<circle cx="472.20" cy="426.50" r="1.35" fill="#94596e"/>
<circle cx="474.30" cy="426.87" r="1.35" fill="#94596e"/>
<circle cx="476.40" cy="427.00" r="1.35" fill="#94596e"/>
<circle cx="478.50" cy="426.87" r="1.35" fill="#94596e"/>
<circle cx="480.60" cy="426.50" r="1.35" fill="#94596e"/>
<circle cx="482.70" cy="425.87" r="1.35" fill="#94596e"/>
<circle cx="484.80" cy="425.00" r="1.35" fill="#94596e"/>
<circle cx="468.00" cy="428.40" r="1.35" fill="#94596e"/>
<circle cx="470.10" cy="429.27" r="1.35" fill="#94596e"/>
<circle cx="472.20" cy="429.90" r="1.35" fill="#94596e"/>
<circle cx="474.30" cy="430.27" r="1.35" fill="#94596e"/>
<circle cx="476.40" cy="430.40" r="1.35" fill="#94596e"/>
<circle cx="478.50" cy="430.27" r="1.35" fill="#94596e"/>
<circle cx="480.60" cy="429.90" r="1.35" fill="#94596e"/>
<circle cx="482.70" cy="429.27" r="1.35" fill="#94596e"/>
<circle cx="484.80" cy="428.40" r="1.35" fill="#94596e"/>
<circle cx="468.00" cy="431.80" r="1.35" fill="#94596e"/>
<circle cx="470.10" cy="432.67" r="1.35" fill="#94596e"/>
<circle cx="472.20" cy="433.30" r="1.35" fill="#94596e"/>
<circle cx="474.30" cy="433.67" r="1.35" fill="#94596e"/>
<circle cx="476.40" cy="433.80" r="1.35" fill="#94596e"/>
<circle cx="478.50" cy="433.67" r="1.35" fill="#94596e"/>
<circle cx="480.60" cy="433.30" r="1.35" fill="#94596e"/>
<circle cx="482.70" cy="432.67" r="1.35" fill="#94596e"/>
<circle cx="484.80" cy="431.80" r="1.35" fill="#94596e"/>
<circle cx="468.00" cy="435.20" r="1.35" fill="#94596e"/>
<circle cx="470.10" cy="436.07" r="1.35" fill="#94596e"/>
<circle cx="472.20" cy="436.70" r="1.35" fill="#94596e"/>
<circle cx="474.30" cy="437.07" r="1.35" fill="#94596e"/>
<circle cx="476.40" cy="437.20" r="1.35" fill="#94596e"/>
<circle cx="478.50" cy="437.07" r="1.35" fill="#94596e"/>
<circle cx="480.60" cy="436.70" r="1.35" fill="#94596e"/>
<circle cx="482.70" cy="436.07" r="1.35" fill="#94596e"/>
<circle cx="484.80" cy="435.20" r="1.35" fill="#94596e"/>
<circle cx="468.00" cy="438.60" r="1.35" fill="#94596e"/>
<circle cx="470.10" cy="439.47" r="1.35" fill="#94596e"/>
<circle cx="472.20" cy="440.10" r="1.35" fill="#94596e"/>
<circle cx="474.30" cy="440.47" r="1.35" fill="#94596e"/>
<circle cx="476.40" cy="440.60" r="1.35" fill="#94596e"/>
<circle cx="478.50" cy="440.47" r="1.35" fill="#94596e"/>
<circle cx="480.60" cy="440.10" r="1.35" fill="#94596e"/>
<circle cx="482.70" cy="439.47" r="1.35" fill="#94596e"/>
<circle cx="484.80" cy="438.60" r="1.35" fill="#94596e"/>
<circle cx="468.47" cy="442.00" r="1.35" fill="#94596e"/>
<circle cx="470.45" cy="442.87" r="1.35" fill="#94596e"/>
<circle cx="472.43" cy="443.50" r="1.35" fill="#94596e"/>
<circle cx="474.42" cy="443.87" r="1.35" fill="#94596e"/>
<circle cx="476.40" cy="444.00" r="1.35" fill="#94596e"/>
<circle cx="478.38" cy="443.87" r="1.35" fill="#94596e"/>
<circle cx="480.37" cy="443.50" r="1.35" fill="#94596e"/>
<circle cx="482.35" cy="442.87" r="1.35" fill="#94596e"/>
<circle cx="484.33" cy="442.00" r="1.35" fill="#94596e"/>
<circle cx="469.26" cy="445.40" r="1.35" fill="#94596e"/>
<circle cx="471.30" cy="446.38" r="1.35" fill="#94596e"/>
<circle cx="473.34" cy="447.03" r="1.35" fill="#94596e"/>
<circle cx="475.38" cy="447.36" r="1.35" fill="#94596e"/>
<circle cx="477.42" cy="447.36" r="1.35" fill="#94596e"/>
<circle cx="479.46" cy="447.03" r="1.35" fill="#94596e"/>
<circle cx="481.50" cy="446.38" r="1.35" fill="#94596e"/>
<circle cx="483.54" cy="445.40" r="1.35" fill="#94596e"/>
<circle cx="503.60" cy="413.90" r="1.35" fill="#8a2a9c"/>
<circle cx="498.90" cy="426.10" r="1.35" fill="#8a2a9c"/>
<circle cx="503.60" cy="429.00" r="1.35" fill="#8a2a9c"/>
<circle cx="507.50" cy="427.40" r="1.35" fill="#8a2a9c"/>
<circle cx="496.60" cy="439.90" r="1.35" fill="#8a2a9c"/>
<circle cx="501.00" cy="439.00" r="1.35" fill="#8a2a9c"/>
<circle cx="506.20" cy="438.70" r="1.35" fill="#8a2a9c"/>
<circle cx="510.50" cy="439.90" r="1.35" fill="#8a2a9c"/>
<circle cx="497.50" cy="442.50" r="1.35" fill="#8a2a9c"/>
<circle cx="501.00" cy="444.20" r="1.35" fill="#8a2a9c"/>
<circle cx="506.20" cy="443.40" r="1.35" fill="#8a2a9c"/>
<line x1="440.7" y1="417.4" x2="458" y2="417.4" stroke="#000" stroke-width="1.6"/>
<line x1="467.9" y1="427.0" x2="485.4" y2="427.0" stroke="#000" stroke-width="1.6"/>
<line x1="494.9" y1="438.2" x2="511.3" y2="438.2" stroke="#000" stroke-width="1.6"/>
<polyline points="450.2,373.90000000000003 450.2,370.3 503.2,370.3 503.2,373.90000000000003" fill="none" stroke="#000" stroke-width="1.4"/>
<polyline points="450.2,384.70000000000005 450.2,381.1 474.4,381.1 474.4,384.70000000000005" fill="none" stroke="#000" stroke-width="1.4"/>
<polyline points="478.6,384.70000000000005 478.6,381.1 503.2,381.1 503.2,384.70000000000005" fill="none" stroke="#000" stroke-width="1.4"/>
<text x="476.50" y="369.90" font-size="10.5" font-weight="bold" font-style="normal" fill="#000" text-anchor="middle" stroke="#000" stroke-width="0.15" >***</text>
<text x="462.40" y="382.70" font-size="10.5" font-weight="bold" font-style="normal" fill="#000" text-anchor="middle" stroke="#000" stroke-width="0.15" >***</text>
<text x="491.20" y="382.70" font-size="10.5" font-weight="bold" font-style="normal" fill="#000" text-anchor="middle" stroke="#000" stroke-width="0.15" >*</text>
<text transform="translate(406.9,415.5) rotate(-90)" font-size="8.9" font-weight="bold" text-anchor="middle" fill="#000" stroke="#000" stroke-width="0.15">Relative expression</text>
<text transform="translate(321.7,464.9) rotate(-45)" font-size="8.0" font-weight="bold" text-anchor="end" fill="#000" stroke="#000" stroke-width="0.2">Healthy</text>
<text transform="translate(348.1,464.9) rotate(-45)" font-size="8.0" font-weight="bold" text-anchor="end" fill="#8c5f70" stroke="#8c5f70" stroke-width="0.2">MDS other</text>
<text transform="translate(374.9,464.9) rotate(-45)" font-size="8.0" font-weight="bold" text-anchor="end" fill="#7d2490" stroke="#7d2490" stroke-width="0.2">MDS del7q</text>
<text transform="translate(453.5,465.2) rotate(-45)" font-size="8.0" font-weight="bold" text-anchor="end" fill="#000" stroke="#000" stroke-width="0.2">Healthy</text>
<text transform="translate(479.9,465.2) rotate(-45)" font-size="8.0" font-weight="bold" text-anchor="end" fill="#8c5f70" stroke="#8c5f70" stroke-width="0.2">MDS other</text>
<text transform="translate(506.9,465.2) rotate(-45)" font-size="8.0" font-weight="bold" text-anchor="end" fill="#7d2490" stroke="#7d2490" stroke-width="0.2">MDS del7q</text>
</svg></body></html>
